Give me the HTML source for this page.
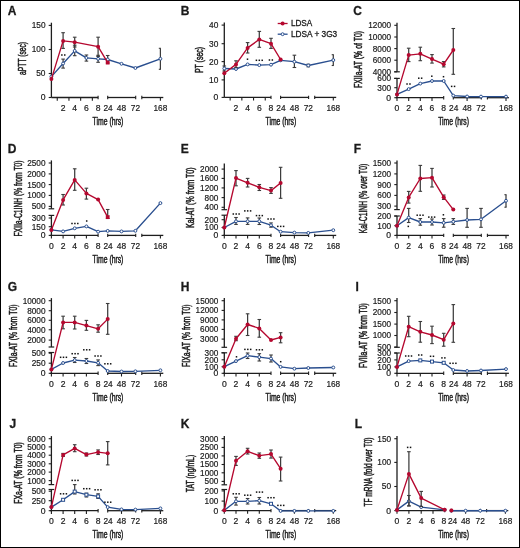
<!DOCTYPE html>
<html><head><meta charset="utf-8"><style>
html,body{margin:0;padding:0;background:#fff;}
body{width:520px;height:548px;overflow:hidden;}
svg{display:block;font-family:"Liberation Sans", sans-serif;will-change:transform;}
</style></head><body>
<svg width="520" height="548" viewBox="0 0 520 548" fill="#1a1a1a" stroke-width="0">
<rect x="0.5" y="0.5" width="519" height="547" fill="#fff" stroke="#000" stroke-width="1"/>
<text x="7.8" y="14.8" font-size="12" text-anchor="start" font-weight="bold" stroke="#1a1a1a" stroke-width="0.28">A</text>
<line x1="51.4" y1="22.7" x2="51.4" y2="97.5" stroke="#1e1e1e" stroke-width="1.3"/>
<line x1="48.7" y1="25.4" x2="51.4" y2="25.4" stroke="#1e1e1e" stroke-width="1.1"/>
<text x="45.5" y="28.3" font-size="8.2" text-anchor="end" font-weight="normal" stroke="#1a1a1a" stroke-width="0.18" textLength="13.8" lengthAdjust="spacingAndGlyphs">150</text>
<line x1="48.7" y1="49.5" x2="51.4" y2="49.5" stroke="#1e1e1e" stroke-width="1.1"/>
<text x="45.5" y="52.4" font-size="8.2" text-anchor="end" font-weight="normal" stroke="#1a1a1a" stroke-width="0.18" textLength="13.8" lengthAdjust="spacingAndGlyphs">100</text>
<line x1="48.7" y1="73.5" x2="51.4" y2="73.5" stroke="#1e1e1e" stroke-width="1.1"/>
<text x="45.5" y="76.4" font-size="8.2" text-anchor="end" font-weight="normal" stroke="#1a1a1a" stroke-width="0.18" textLength="9.3" lengthAdjust="spacingAndGlyphs">50</text>
<line x1="48.7" y1="97.5" x2="51.4" y2="97.5" stroke="#1e1e1e" stroke-width="1.1"/>
<text x="45.5" y="100.4" font-size="8.2" text-anchor="end" font-weight="normal" stroke="#1a1a1a" stroke-width="0.18" textLength="4.8" lengthAdjust="spacingAndGlyphs">0</text>
<line x1="51.4" y1="97.5" x2="98.1" y2="97.5" stroke="#1e1e1e" stroke-width="1.3"/>
<line x1="98.1" y1="95.8" x2="98.1" y2="99.2" stroke="#1e1e1e" stroke-width="1.1"/>
<line x1="57.25" y1="97.5" x2="57.25" y2="100.7" stroke="#1e1e1e" stroke-width="1.1"/>
<line x1="68.95" y1="97.5" x2="68.95" y2="100.7" stroke="#1e1e1e" stroke-width="1.1"/>
<line x1="80.65" y1="97.5" x2="80.65" y2="100.7" stroke="#1e1e1e" stroke-width="1.1"/>
<line x1="92.35" y1="97.5" x2="92.35" y2="100.7" stroke="#1e1e1e" stroke-width="1.1"/>
<line x1="107.7" y1="97.5" x2="135.7" y2="97.5" stroke="#1e1e1e" stroke-width="1.3"/>
<line x1="107.7" y1="95.8" x2="107.7" y2="99.2" stroke="#1e1e1e" stroke-width="1.1"/>
<line x1="135.7" y1="95.8" x2="135.7" y2="99.2" stroke="#1e1e1e" stroke-width="1.1"/>
<line x1="141.8" y1="97.5" x2="163.3" y2="97.5" stroke="#1e1e1e" stroke-width="1.3"/>
<line x1="141.8" y1="95.8" x2="141.8" y2="99.2" stroke="#1e1e1e" stroke-width="1.1"/>
<line x1="160.4" y1="97.5" x2="160.4" y2="100.7" stroke="#1e1e1e" stroke-width="1.1"/>
<text x="63.1" y="110.9" font-size="8.2" text-anchor="middle" font-weight="normal" stroke="#1a1a1a" stroke-width="0.18" textLength="4.8" lengthAdjust="spacingAndGlyphs">2</text>
<text x="74.7" y="110.9" font-size="8.2" text-anchor="middle" font-weight="normal" stroke="#1a1a1a" stroke-width="0.18" textLength="4.8" lengthAdjust="spacingAndGlyphs">4</text>
<text x="86.4" y="110.9" font-size="8.2" text-anchor="middle" font-weight="normal" stroke="#1a1a1a" stroke-width="0.18" textLength="4.8" lengthAdjust="spacingAndGlyphs">6</text>
<text x="98.1" y="110.9" font-size="8.2" text-anchor="middle" font-weight="normal" stroke="#1a1a1a" stroke-width="0.18" textLength="4.8" lengthAdjust="spacingAndGlyphs">8</text>
<text x="108.1" y="110.9" font-size="8.2" text-anchor="middle" font-weight="normal" stroke="#1a1a1a" stroke-width="0.18" textLength="9.3" lengthAdjust="spacingAndGlyphs">24</text>
<text x="121.5" y="110.9" font-size="8.2" text-anchor="middle" font-weight="normal" stroke="#1a1a1a" stroke-width="0.18" textLength="9.3" lengthAdjust="spacingAndGlyphs">48</text>
<text x="135.4" y="110.9" font-size="8.2" text-anchor="middle" font-weight="normal" stroke="#1a1a1a" stroke-width="0.18" textLength="9.3" lengthAdjust="spacingAndGlyphs">72</text>
<text x="160.4" y="110.9" font-size="8.2" text-anchor="middle" font-weight="normal" stroke="#1a1a1a" stroke-width="0.18" textLength="13.8" lengthAdjust="spacingAndGlyphs">168</text>
<text x="108" y="124.9" font-size="10" text-anchor="middle" font-weight="normal" stroke="#1a1a1a" stroke-width="0.45" textLength="30.8" lengthAdjust="spacingAndGlyphs">Time (hrs)</text>
<text transform="translate(25.6,58.4) rotate(-90)" x="0" y="0" stroke="#1a1a1a" stroke-width="0.5" font-size="10" text-anchor="middle" textLength="33" lengthAdjust="spacingAndGlyphs">aPTT (sec)</text>
<line x1="63.1" y1="59.1" x2="63.1" y2="68.1" stroke="#3c3c3c" stroke-width="1.25"/>
<line x1="61.3" y1="59.1" x2="64.9" y2="59.1" stroke="#3c3c3c" stroke-width="1.1"/>
<line x1="61.3" y1="68.1" x2="64.9" y2="68.1" stroke="#3c3c3c" stroke-width="1.1"/>
<line x1="74.7" y1="45.2" x2="74.7" y2="55.7" stroke="#3c3c3c" stroke-width="1.25"/>
<line x1="72.9" y1="45.2" x2="76.5" y2="45.2" stroke="#3c3c3c" stroke-width="1.1"/>
<line x1="72.9" y1="55.7" x2="76.5" y2="55.7" stroke="#3c3c3c" stroke-width="1.1"/>
<line x1="86.4" y1="55" x2="86.4" y2="61.1" stroke="#3c3c3c" stroke-width="1.25"/>
<line x1="84.6" y1="55" x2="88.2" y2="55" stroke="#3c3c3c" stroke-width="1.1"/>
<line x1="84.6" y1="61.1" x2="88.2" y2="61.1" stroke="#3c3c3c" stroke-width="1.1"/>
<line x1="98.1" y1="55.3" x2="98.1" y2="62.3" stroke="#3c3c3c" stroke-width="1.25"/>
<line x1="96.3" y1="55.3" x2="99.9" y2="55.3" stroke="#3c3c3c" stroke-width="1.1"/>
<line x1="96.3" y1="62.3" x2="99.9" y2="62.3" stroke="#3c3c3c" stroke-width="1.1"/>
<line x1="107.7" y1="55.5" x2="107.7" y2="63" stroke="#3c3c3c" stroke-width="1.25"/>
<line x1="105.9" y1="55.5" x2="109.5" y2="55.5" stroke="#3c3c3c" stroke-width="1.1"/>
<line x1="105.9" y1="63" x2="109.5" y2="63" stroke="#3c3c3c" stroke-width="1.1"/>
<line x1="160.4" y1="48.3" x2="160.4" y2="69.3" stroke="#3c3c3c" stroke-width="1.25"/>
<line x1="158.8" y1="48.3" x2="160.9" y2="48.3" stroke="#3c3c3c" stroke-width="1.1"/>
<line x1="158.8" y1="69.3" x2="160.9" y2="69.3" stroke="#3c3c3c" stroke-width="1.1"/>
<polyline points="51.4,76.6 63.1,63.5 74.7,50.9 86.4,57.9 98.1,58.8 107.7,59.5 121.5,63.8 135.4,68 160.4,58.8" fill="none" stroke="#2a4f8f" stroke-width="1.35" stroke-linejoin="round"/>
<circle cx="51.4" cy="76.6" r="1.45" fill="#fff" stroke="#2a4f8f" stroke-width="1"/>
<circle cx="63.1" cy="63.5" r="1.45" fill="#fff" stroke="#2a4f8f" stroke-width="1"/>
<circle cx="74.7" cy="50.9" r="1.45" fill="#fff" stroke="#2a4f8f" stroke-width="1"/>
<circle cx="86.4" cy="57.9" r="1.45" fill="#fff" stroke="#2a4f8f" stroke-width="1"/>
<circle cx="98.1" cy="58.8" r="1.45" fill="#fff" stroke="#2a4f8f" stroke-width="1"/>
<circle cx="107.7" cy="59.5" r="1.45" fill="#fff" stroke="#2a4f8f" stroke-width="1"/>
<circle cx="121.5" cy="63.8" r="1.45" fill="#fff" stroke="#2a4f8f" stroke-width="1"/>
<circle cx="135.4" cy="68" r="1.45" fill="#fff" stroke="#2a4f8f" stroke-width="1"/>
<circle cx="160.4" cy="58.8" r="1.45" fill="#fff" stroke="#2a4f8f" stroke-width="1"/>
<line x1="63.1" y1="32.7" x2="63.1" y2="48.4" stroke="#3c3c3c" stroke-width="1.25"/>
<line x1="61.3" y1="32.7" x2="64.9" y2="32.7" stroke="#3c3c3c" stroke-width="1.1"/>
<line x1="61.3" y1="48.4" x2="64.9" y2="48.4" stroke="#3c3c3c" stroke-width="1.1"/>
<line x1="74.7" y1="37.2" x2="74.7" y2="47" stroke="#3c3c3c" stroke-width="1.25"/>
<line x1="72.9" y1="37.2" x2="76.5" y2="37.2" stroke="#3c3c3c" stroke-width="1.1"/>
<line x1="72.9" y1="47" x2="76.5" y2="47" stroke="#3c3c3c" stroke-width="1.1"/>
<line x1="98.1" y1="37.2" x2="98.1" y2="56.5" stroke="#3c3c3c" stroke-width="1.25"/>
<line x1="96.3" y1="37.2" x2="99.9" y2="37.2" stroke="#3c3c3c" stroke-width="1.1"/>
<line x1="96.3" y1="56.5" x2="99.9" y2="56.5" stroke="#3c3c3c" stroke-width="1.1"/>
<polyline points="51.4,79.1 63.1,40.9 74.7,42.2 98.1,46.7 107.7,62.6" fill="none" stroke="#b5082f" stroke-width="1.35" stroke-linejoin="round"/>
<circle cx="51.4" cy="79.1" r="2.0" fill="#b5082f"/>
<circle cx="63.1" cy="40.9" r="2.0" fill="#b5082f"/>
<circle cx="74.7" cy="42.2" r="2.0" fill="#b5082f"/>
<circle cx="98.1" cy="46.7" r="2.0" fill="#b5082f"/>
<rect x="105.8" y="60.7" width="3.8" height="3.8" fill="#b5082f"/>
<rect x="61.1" y="54.25" width="1.5" height="1.5" fill="#111"/>
<rect x="64" y="54.25" width="1.5" height="1.5" fill="#111"/>
<text x="180.8" y="15" font-size="12" text-anchor="start" font-weight="bold" stroke="#1a1a1a" stroke-width="0.28">B</text>
<line x1="224.3" y1="22.5" x2="224.3" y2="97.4" stroke="#1e1e1e" stroke-width="1.3"/>
<line x1="221.6" y1="25.1" x2="224.3" y2="25.1" stroke="#1e1e1e" stroke-width="1.1"/>
<text x="218.4" y="28" font-size="8.2" text-anchor="end" font-weight="normal" stroke="#1a1a1a" stroke-width="0.18" textLength="9.3" lengthAdjust="spacingAndGlyphs">40</text>
<line x1="221.6" y1="43.7" x2="224.3" y2="43.7" stroke="#1e1e1e" stroke-width="1.1"/>
<text x="218.4" y="46.6" font-size="8.2" text-anchor="end" font-weight="normal" stroke="#1a1a1a" stroke-width="0.18" textLength="9.3" lengthAdjust="spacingAndGlyphs">30</text>
<line x1="221.6" y1="61.6" x2="224.3" y2="61.6" stroke="#1e1e1e" stroke-width="1.1"/>
<text x="218.4" y="64.5" font-size="8.2" text-anchor="end" font-weight="normal" stroke="#1a1a1a" stroke-width="0.18" textLength="9.3" lengthAdjust="spacingAndGlyphs">20</text>
<line x1="221.6" y1="79.9" x2="224.3" y2="79.9" stroke="#1e1e1e" stroke-width="1.1"/>
<text x="218.4" y="82.8" font-size="8.2" text-anchor="end" font-weight="normal" stroke="#1a1a1a" stroke-width="0.18" textLength="9.3" lengthAdjust="spacingAndGlyphs">10</text>
<line x1="221.6" y1="97.4" x2="224.3" y2="97.4" stroke="#1e1e1e" stroke-width="1.1"/>
<text x="218.4" y="100.3" font-size="8.2" text-anchor="end" font-weight="normal" stroke="#1a1a1a" stroke-width="0.18" textLength="4.8" lengthAdjust="spacingAndGlyphs">0</text>
<line x1="224.3" y1="97.4" x2="271" y2="97.4" stroke="#1e1e1e" stroke-width="1.3"/>
<line x1="271" y1="95.7" x2="271" y2="99.1" stroke="#1e1e1e" stroke-width="1.1"/>
<line x1="230.15" y1="97.4" x2="230.15" y2="100.6" stroke="#1e1e1e" stroke-width="1.1"/>
<line x1="241.85" y1="97.4" x2="241.85" y2="100.6" stroke="#1e1e1e" stroke-width="1.1"/>
<line x1="253.55" y1="97.4" x2="253.55" y2="100.6" stroke="#1e1e1e" stroke-width="1.1"/>
<line x1="265.25" y1="97.4" x2="265.25" y2="100.6" stroke="#1e1e1e" stroke-width="1.1"/>
<line x1="280.6" y1="97.4" x2="308.6" y2="97.4" stroke="#1e1e1e" stroke-width="1.3"/>
<line x1="280.6" y1="95.7" x2="280.6" y2="99.1" stroke="#1e1e1e" stroke-width="1.1"/>
<line x1="308.6" y1="95.7" x2="308.6" y2="99.1" stroke="#1e1e1e" stroke-width="1.1"/>
<line x1="314.7" y1="97.4" x2="336.2" y2="97.4" stroke="#1e1e1e" stroke-width="1.3"/>
<line x1="314.7" y1="95.7" x2="314.7" y2="99.1" stroke="#1e1e1e" stroke-width="1.1"/>
<line x1="333.3" y1="97.4" x2="333.3" y2="100.6" stroke="#1e1e1e" stroke-width="1.1"/>
<text x="236" y="110.8" font-size="8.2" text-anchor="middle" font-weight="normal" stroke="#1a1a1a" stroke-width="0.18" textLength="4.8" lengthAdjust="spacingAndGlyphs">2</text>
<text x="247.6" y="110.8" font-size="8.2" text-anchor="middle" font-weight="normal" stroke="#1a1a1a" stroke-width="0.18" textLength="4.8" lengthAdjust="spacingAndGlyphs">4</text>
<text x="259.3" y="110.8" font-size="8.2" text-anchor="middle" font-weight="normal" stroke="#1a1a1a" stroke-width="0.18" textLength="4.8" lengthAdjust="spacingAndGlyphs">6</text>
<text x="271" y="110.8" font-size="8.2" text-anchor="middle" font-weight="normal" stroke="#1a1a1a" stroke-width="0.18" textLength="4.8" lengthAdjust="spacingAndGlyphs">8</text>
<text x="281" y="110.8" font-size="8.2" text-anchor="middle" font-weight="normal" stroke="#1a1a1a" stroke-width="0.18" textLength="9.3" lengthAdjust="spacingAndGlyphs">24</text>
<text x="294.4" y="110.8" font-size="8.2" text-anchor="middle" font-weight="normal" stroke="#1a1a1a" stroke-width="0.18" textLength="9.3" lengthAdjust="spacingAndGlyphs">48</text>
<text x="308.3" y="110.8" font-size="8.2" text-anchor="middle" font-weight="normal" stroke="#1a1a1a" stroke-width="0.18" textLength="9.3" lengthAdjust="spacingAndGlyphs">72</text>
<text x="333.3" y="110.8" font-size="8.2" text-anchor="middle" font-weight="normal" stroke="#1a1a1a" stroke-width="0.18" textLength="13.8" lengthAdjust="spacingAndGlyphs">168</text>
<text x="280.9" y="124.8" font-size="10" text-anchor="middle" font-weight="normal" stroke="#1a1a1a" stroke-width="0.45" textLength="30.8" lengthAdjust="spacingAndGlyphs">Time (hrs)</text>
<text transform="translate(203.3,60) rotate(-90)" x="0" y="0" stroke="#1a1a1a" stroke-width="0.5" font-size="10" text-anchor="middle" textLength="26.2" lengthAdjust="spacingAndGlyphs">PT (sec)</text>
<line x1="224.3" y1="66" x2="224.3" y2="71" stroke="#3c3c3c" stroke-width="1.25"/>
<line x1="222.5" y1="66" x2="226.1" y2="66" stroke="#3c3c3c" stroke-width="1.1"/>
<line x1="222.5" y1="71" x2="226.1" y2="71" stroke="#3c3c3c" stroke-width="1.1"/>
<line x1="294.4" y1="55.2" x2="294.4" y2="67.5" stroke="#3c3c3c" stroke-width="1.25"/>
<line x1="292.6" y1="55.2" x2="296.2" y2="55.2" stroke="#3c3c3c" stroke-width="1.1"/>
<line x1="292.6" y1="67.5" x2="296.2" y2="67.5" stroke="#3c3c3c" stroke-width="1.1"/>
<line x1="308.3" y1="64.2" x2="308.3" y2="66.8" stroke="#3c3c3c" stroke-width="1.25"/>
<line x1="306.5" y1="64.2" x2="310.1" y2="64.2" stroke="#3c3c3c" stroke-width="1.1"/>
<line x1="306.5" y1="66.8" x2="310.1" y2="66.8" stroke="#3c3c3c" stroke-width="1.1"/>
<line x1="333.3" y1="54.7" x2="333.3" y2="65.5" stroke="#3c3c3c" stroke-width="1.25"/>
<line x1="331.7" y1="54.7" x2="333.8" y2="54.7" stroke="#3c3c3c" stroke-width="1.1"/>
<line x1="331.7" y1="65.5" x2="333.8" y2="65.5" stroke="#3c3c3c" stroke-width="1.1"/>
<polyline points="224.3,68.5 236,69 247.6,64.4 259.3,65.1 271,64.7 280.6,60.3 294.4,61.7 308.3,65.5 333.3,60.1" fill="none" stroke="#2a4f8f" stroke-width="1.35" stroke-linejoin="round"/>
<circle cx="224.3" cy="68.5" r="1.45" fill="#fff" stroke="#2a4f8f" stroke-width="1"/>
<circle cx="236" cy="69" r="1.45" fill="#fff" stroke="#2a4f8f" stroke-width="1"/>
<circle cx="247.6" cy="64.4" r="1.45" fill="#fff" stroke="#2a4f8f" stroke-width="1"/>
<circle cx="259.3" cy="65.1" r="1.45" fill="#fff" stroke="#2a4f8f" stroke-width="1"/>
<circle cx="271" cy="64.7" r="1.45" fill="#fff" stroke="#2a4f8f" stroke-width="1"/>
<circle cx="280.6" cy="60.3" r="1.45" fill="#fff" stroke="#2a4f8f" stroke-width="1"/>
<circle cx="294.4" cy="61.7" r="1.45" fill="#fff" stroke="#2a4f8f" stroke-width="1"/>
<circle cx="308.3" cy="65.5" r="1.45" fill="#fff" stroke="#2a4f8f" stroke-width="1"/>
<circle cx="333.3" cy="60.1" r="1.45" fill="#fff" stroke="#2a4f8f" stroke-width="1"/>
<line x1="236" y1="60.8" x2="236" y2="67.5" stroke="#3c3c3c" stroke-width="1.25"/>
<line x1="234.2" y1="60.8" x2="237.8" y2="60.8" stroke="#3c3c3c" stroke-width="1.1"/>
<line x1="234.2" y1="67.5" x2="237.8" y2="67.5" stroke="#3c3c3c" stroke-width="1.1"/>
<line x1="247.6" y1="42.6" x2="247.6" y2="53" stroke="#3c3c3c" stroke-width="1.25"/>
<line x1="245.8" y1="42.6" x2="249.4" y2="42.6" stroke="#3c3c3c" stroke-width="1.1"/>
<line x1="245.8" y1="53" x2="249.4" y2="53" stroke="#3c3c3c" stroke-width="1.1"/>
<line x1="259.3" y1="31.4" x2="259.3" y2="47.3" stroke="#3c3c3c" stroke-width="1.25"/>
<line x1="257.5" y1="31.4" x2="261.1" y2="31.4" stroke="#3c3c3c" stroke-width="1.1"/>
<line x1="257.5" y1="47.3" x2="261.1" y2="47.3" stroke="#3c3c3c" stroke-width="1.1"/>
<line x1="271" y1="38.3" x2="271" y2="48.4" stroke="#3c3c3c" stroke-width="1.25"/>
<line x1="269.2" y1="38.3" x2="272.8" y2="38.3" stroke="#3c3c3c" stroke-width="1.1"/>
<line x1="269.2" y1="48.4" x2="272.8" y2="48.4" stroke="#3c3c3c" stroke-width="1.1"/>
<polyline points="224.3,73.2 236,64.4 247.6,47.9 259.3,39.4 271,43.7 280.6,59.5" fill="none" stroke="#b5082f" stroke-width="1.35" stroke-linejoin="round"/>
<circle cx="224.3" cy="73.2" r="2.0" fill="#b5082f"/>
<circle cx="236" cy="64.4" r="2.0" fill="#b5082f"/>
<circle cx="247.6" cy="47.9" r="2.0" fill="#b5082f"/>
<circle cx="259.3" cy="39.4" r="2.0" fill="#b5082f"/>
<circle cx="271" cy="43.7" r="2.0" fill="#b5082f"/>
<circle cx="280.6" cy="59.5" r="2.0" fill="#b5082f"/>
<rect x="246.75" y="58.45" width="1.5" height="1.5" fill="#111"/>
<rect x="255.65" y="59.55" width="1.5" height="1.5" fill="#111"/>
<rect x="258.55" y="59.55" width="1.5" height="1.5" fill="#111"/>
<rect x="261.45" y="59.55" width="1.5" height="1.5" fill="#111"/>
<rect x="268.7" y="59.25" width="1.5" height="1.5" fill="#111"/>
<rect x="271.6" y="59.25" width="1.5" height="1.5" fill="#111"/>
<text x="353.3" y="14.9" font-size="12" text-anchor="start" font-weight="bold" stroke="#1a1a1a" stroke-width="0.28">C</text>
<line x1="397" y1="22.7" x2="397" y2="71.8" stroke="#1e1e1e" stroke-width="1.3"/>
<line x1="394.2" y1="71.8" x2="399.8" y2="71.8" stroke="#1e1e1e" stroke-width="1.2"/>
<line x1="397" y1="78.4" x2="397" y2="97.7" stroke="#1e1e1e" stroke-width="1.3"/>
<line x1="394.2" y1="78.4" x2="399.8" y2="78.4" stroke="#1e1e1e" stroke-width="1.2"/>
<line x1="394.3" y1="25.3" x2="397" y2="25.3" stroke="#1e1e1e" stroke-width="1.1"/>
<text x="391.1" y="28.2" font-size="8.2" text-anchor="end" font-weight="normal" stroke="#1a1a1a" stroke-width="0.18" textLength="22.8" lengthAdjust="spacingAndGlyphs">12000</text>
<line x1="394.3" y1="37" x2="397" y2="37" stroke="#1e1e1e" stroke-width="1.1"/>
<text x="391.1" y="39.9" font-size="8.2" text-anchor="end" font-weight="normal" stroke="#1a1a1a" stroke-width="0.18" textLength="22.8" lengthAdjust="spacingAndGlyphs">10000</text>
<line x1="394.3" y1="48.6" x2="397" y2="48.6" stroke="#1e1e1e" stroke-width="1.1"/>
<text x="391.1" y="51.5" font-size="8.2" text-anchor="end" font-weight="normal" stroke="#1a1a1a" stroke-width="0.18" textLength="18.3" lengthAdjust="spacingAndGlyphs">8000</text>
<line x1="394.3" y1="60.2" x2="397" y2="60.2" stroke="#1e1e1e" stroke-width="1.1"/>
<text x="391.1" y="63.1" font-size="8.2" text-anchor="end" font-weight="normal" stroke="#1a1a1a" stroke-width="0.18" textLength="18.3" lengthAdjust="spacingAndGlyphs">6000</text>
<line x1="394.3" y1="71.8" x2="397" y2="71.8" stroke="#1e1e1e" stroke-width="1.1"/>
<text x="391.1" y="74.7" font-size="8.2" text-anchor="end" font-weight="normal" stroke="#1a1a1a" stroke-width="0.18" textLength="18.3" lengthAdjust="spacingAndGlyphs">4000</text>
<line x1="394.3" y1="78.4" x2="397" y2="78.4" stroke="#1e1e1e" stroke-width="1.1"/>
<text x="391.1" y="81.3" font-size="8.2" text-anchor="end" font-weight="normal" stroke="#1a1a1a" stroke-width="0.18" textLength="13.8" lengthAdjust="spacingAndGlyphs">600</text>
<line x1="394.3" y1="87.7" x2="397" y2="87.7" stroke="#1e1e1e" stroke-width="1.1"/>
<text x="391.1" y="90.6" font-size="8.2" text-anchor="end" font-weight="normal" stroke="#1a1a1a" stroke-width="0.18" textLength="13.8" lengthAdjust="spacingAndGlyphs">300</text>
<line x1="394.3" y1="97.7" x2="397" y2="97.7" stroke="#1e1e1e" stroke-width="1.1"/>
<text x="391.1" y="100.6" font-size="8.2" text-anchor="end" font-weight="normal" stroke="#1a1a1a" stroke-width="0.18" textLength="4.8" lengthAdjust="spacingAndGlyphs">0</text>
<line x1="395.8" y1="97.7" x2="443.7" y2="97.7" stroke="#1e1e1e" stroke-width="1.3"/>
<line x1="443.7" y1="96" x2="443.7" y2="99.4" stroke="#1e1e1e" stroke-width="1.1"/>
<line x1="397" y1="97.7" x2="397" y2="100.9" stroke="#1e1e1e" stroke-width="1.1"/>
<line x1="408.7" y1="97.7" x2="408.7" y2="100.9" stroke="#1e1e1e" stroke-width="1.1"/>
<line x1="420.3" y1="97.7" x2="420.3" y2="100.9" stroke="#1e1e1e" stroke-width="1.1"/>
<line x1="432" y1="97.7" x2="432" y2="100.9" stroke="#1e1e1e" stroke-width="1.1"/>
<line x1="453.3" y1="97.7" x2="481.3" y2="97.7" stroke="#1e1e1e" stroke-width="1.3"/>
<line x1="453.3" y1="96" x2="453.3" y2="99.4" stroke="#1e1e1e" stroke-width="1.1"/>
<line x1="481.3" y1="96" x2="481.3" y2="99.4" stroke="#1e1e1e" stroke-width="1.1"/>
<line x1="467.1" y1="97.7" x2="467.1" y2="100.9" stroke="#1e1e1e" stroke-width="1.1"/>
<line x1="487.4" y1="97.7" x2="508.9" y2="97.7" stroke="#1e1e1e" stroke-width="1.3"/>
<line x1="487.4" y1="96" x2="487.4" y2="99.4" stroke="#1e1e1e" stroke-width="1.1"/>
<line x1="506" y1="97.7" x2="506" y2="100.9" stroke="#1e1e1e" stroke-width="1.1"/>
<text x="397" y="111.1" font-size="8.2" text-anchor="middle" font-weight="normal" stroke="#1a1a1a" stroke-width="0.18" textLength="4.8" lengthAdjust="spacingAndGlyphs">0</text>
<text x="408.7" y="111.1" font-size="8.2" text-anchor="middle" font-weight="normal" stroke="#1a1a1a" stroke-width="0.18" textLength="4.8" lengthAdjust="spacingAndGlyphs">2</text>
<text x="420.3" y="111.1" font-size="8.2" text-anchor="middle" font-weight="normal" stroke="#1a1a1a" stroke-width="0.18" textLength="4.8" lengthAdjust="spacingAndGlyphs">4</text>
<text x="432" y="111.1" font-size="8.2" text-anchor="middle" font-weight="normal" stroke="#1a1a1a" stroke-width="0.18" textLength="4.8" lengthAdjust="spacingAndGlyphs">6</text>
<text x="443.7" y="111.1" font-size="8.2" text-anchor="middle" font-weight="normal" stroke="#1a1a1a" stroke-width="0.18" textLength="4.8" lengthAdjust="spacingAndGlyphs">8</text>
<text x="453.7" y="111.1" font-size="8.2" text-anchor="middle" font-weight="normal" stroke="#1a1a1a" stroke-width="0.18" textLength="9.3" lengthAdjust="spacingAndGlyphs">24</text>
<text x="467.1" y="111.1" font-size="8.2" text-anchor="middle" font-weight="normal" stroke="#1a1a1a" stroke-width="0.18" textLength="9.3" lengthAdjust="spacingAndGlyphs">48</text>
<text x="481" y="111.1" font-size="8.2" text-anchor="middle" font-weight="normal" stroke="#1a1a1a" stroke-width="0.18" textLength="9.3" lengthAdjust="spacingAndGlyphs">72</text>
<text x="506" y="111.1" font-size="8.2" text-anchor="middle" font-weight="normal" stroke="#1a1a1a" stroke-width="0.18" textLength="13.8" lengthAdjust="spacingAndGlyphs">168</text>
<text x="453.6" y="125.1" font-size="10" text-anchor="middle" font-weight="normal" stroke="#1a1a1a" stroke-width="0.45" textLength="30.8" lengthAdjust="spacingAndGlyphs">Time (hrs)</text>
<text transform="translate(361.6,59.5) rotate(-90)" x="0" y="0" stroke="#1a1a1a" stroke-width="0.5" font-size="10" text-anchor="middle" textLength="57" lengthAdjust="spacingAndGlyphs">FXIIa-AT (% of T0)</text>
<polyline points="397,94.4 408.7,89.1 420.3,83.6 432,81 443.7,81 453.3,95.6 467.1,96.5 481,96.6 506,96.6" fill="none" stroke="#2a4f8f" stroke-width="1.35" stroke-linejoin="round"/>
<circle cx="397" cy="94.4" r="1.45" fill="#fff" stroke="#2a4f8f" stroke-width="1"/>
<circle cx="408.7" cy="89.1" r="1.45" fill="#fff" stroke="#2a4f8f" stroke-width="1"/>
<circle cx="420.3" cy="83.6" r="1.45" fill="#fff" stroke="#2a4f8f" stroke-width="1"/>
<circle cx="432" cy="81" r="1.45" fill="#fff" stroke="#2a4f8f" stroke-width="1"/>
<circle cx="443.7" cy="81" r="1.45" fill="#fff" stroke="#2a4f8f" stroke-width="1"/>
<circle cx="453.3" cy="95.6" r="1.45" fill="#fff" stroke="#2a4f8f" stroke-width="1"/>
<circle cx="467.1" cy="96.5" r="1.45" fill="#fff" stroke="#2a4f8f" stroke-width="1"/>
<circle cx="481" cy="96.6" r="1.45" fill="#fff" stroke="#2a4f8f" stroke-width="1"/>
<circle cx="506" cy="96.6" r="1.45" fill="#fff" stroke="#2a4f8f" stroke-width="1"/>
<line x1="408.7" y1="48.2" x2="408.7" y2="61.6" stroke="#3c3c3c" stroke-width="1.25"/>
<line x1="406.9" y1="48.2" x2="410.5" y2="48.2" stroke="#3c3c3c" stroke-width="1.1"/>
<line x1="406.9" y1="61.6" x2="410.5" y2="61.6" stroke="#3c3c3c" stroke-width="1.1"/>
<line x1="420.3" y1="47.2" x2="420.3" y2="60.7" stroke="#3c3c3c" stroke-width="1.25"/>
<line x1="418.5" y1="47.2" x2="422.1" y2="47.2" stroke="#3c3c3c" stroke-width="1.1"/>
<line x1="418.5" y1="60.7" x2="422.1" y2="60.7" stroke="#3c3c3c" stroke-width="1.1"/>
<line x1="432" y1="54.6" x2="432" y2="63.1" stroke="#3c3c3c" stroke-width="1.25"/>
<line x1="430.2" y1="54.6" x2="433.8" y2="54.6" stroke="#3c3c3c" stroke-width="1.1"/>
<line x1="430.2" y1="63.1" x2="433.8" y2="63.1" stroke="#3c3c3c" stroke-width="1.1"/>
<line x1="443.7" y1="61.6" x2="443.7" y2="66.9" stroke="#3c3c3c" stroke-width="1.25"/>
<line x1="441.9" y1="61.6" x2="445.5" y2="61.6" stroke="#3c3c3c" stroke-width="1.1"/>
<line x1="441.9" y1="66.9" x2="445.5" y2="66.9" stroke="#3c3c3c" stroke-width="1.1"/>
<line x1="453.3" y1="28.5" x2="453.3" y2="74.3" stroke="#3c3c3c" stroke-width="1.25"/>
<line x1="451.5" y1="28.5" x2="455.1" y2="28.5" stroke="#3c3c3c" stroke-width="1.1"/>
<line x1="451.5" y1="74.3" x2="455.1" y2="74.3" stroke="#3c3c3c" stroke-width="1.1"/>
<polyline points="397,94.4 408.7,55.1 420.3,53.8 432,59.1 443.7,64.2 453.3,50" fill="none" stroke="#b5082f" stroke-width="1.35" stroke-linejoin="round"/>
<circle cx="397" cy="94.4" r="2.0" fill="#b5082f"/>
<circle cx="408.7" cy="55.1" r="2.0" fill="#b5082f"/>
<circle cx="420.3" cy="53.8" r="2.0" fill="#b5082f"/>
<circle cx="432" cy="59.1" r="2.0" fill="#b5082f"/>
<circle cx="443.7" cy="64.2" r="2.0" fill="#b5082f"/>
<circle cx="453.3" cy="50" r="2.0" fill="#b5082f"/>
<rect x="406.3" y="83.25" width="1.5" height="1.5" fill="#111"/>
<rect x="409.2" y="83.25" width="1.5" height="1.5" fill="#111"/>
<rect x="418" y="77.45" width="1.5" height="1.5" fill="#111"/>
<rect x="420.9" y="77.45" width="1.5" height="1.5" fill="#111"/>
<rect x="431.05" y="75.45" width="1.5" height="1.5" fill="#111"/>
<rect x="442.75" y="75.95" width="1.5" height="1.5" fill="#111"/>
<rect x="450.9" y="85.65" width="1.5" height="1.5" fill="#111"/>
<rect x="453.8" y="85.65" width="1.5" height="1.5" fill="#111"/>
<text x="7.8" y="153" font-size="12" text-anchor="start" font-weight="bold" stroke="#1a1a1a" stroke-width="0.28">D</text>
<line x1="51.4" y1="160.4" x2="51.4" y2="208.8" stroke="#1e1e1e" stroke-width="1.3"/>
<line x1="48.6" y1="208.8" x2="54.2" y2="208.8" stroke="#1e1e1e" stroke-width="1.2"/>
<line x1="51.4" y1="215.4" x2="51.4" y2="235.4" stroke="#1e1e1e" stroke-width="1.3"/>
<line x1="48.6" y1="215.4" x2="54.2" y2="215.4" stroke="#1e1e1e" stroke-width="1.2"/>
<line x1="48.7" y1="163" x2="51.4" y2="163" stroke="#1e1e1e" stroke-width="1.1"/>
<text x="45.5" y="165.9" font-size="8.2" text-anchor="end" font-weight="normal" stroke="#1a1a1a" stroke-width="0.18" textLength="18.3" lengthAdjust="spacingAndGlyphs">2500</text>
<line x1="48.7" y1="173.9" x2="51.4" y2="173.9" stroke="#1e1e1e" stroke-width="1.1"/>
<text x="45.5" y="176.8" font-size="8.2" text-anchor="end" font-weight="normal" stroke="#1a1a1a" stroke-width="0.18" textLength="18.3" lengthAdjust="spacingAndGlyphs">2000</text>
<line x1="48.7" y1="184.6" x2="51.4" y2="184.6" stroke="#1e1e1e" stroke-width="1.1"/>
<text x="45.5" y="187.5" font-size="8.2" text-anchor="end" font-weight="normal" stroke="#1a1a1a" stroke-width="0.18" textLength="18.3" lengthAdjust="spacingAndGlyphs">1500</text>
<line x1="48.7" y1="195.4" x2="51.4" y2="195.4" stroke="#1e1e1e" stroke-width="1.1"/>
<text x="45.5" y="198.3" font-size="8.2" text-anchor="end" font-weight="normal" stroke="#1a1a1a" stroke-width="0.18" textLength="18.3" lengthAdjust="spacingAndGlyphs">1000</text>
<line x1="48.7" y1="206.4" x2="51.4" y2="206.4" stroke="#1e1e1e" stroke-width="1.1"/>
<text x="45.5" y="209.3" font-size="8.2" text-anchor="end" font-weight="normal" stroke="#1a1a1a" stroke-width="0.18" textLength="13.8" lengthAdjust="spacingAndGlyphs">500</text>
<line x1="48.7" y1="218" x2="51.4" y2="218" stroke="#1e1e1e" stroke-width="1.1"/>
<text x="45.5" y="220.9" font-size="8.2" text-anchor="end" font-weight="normal" stroke="#1a1a1a" stroke-width="0.18" textLength="13.8" lengthAdjust="spacingAndGlyphs">300</text>
<line x1="48.7" y1="226.7" x2="51.4" y2="226.7" stroke="#1e1e1e" stroke-width="1.1"/>
<text x="45.5" y="229.6" font-size="8.2" text-anchor="end" font-weight="normal" stroke="#1a1a1a" stroke-width="0.18" textLength="13.8" lengthAdjust="spacingAndGlyphs">150</text>
<line x1="48.7" y1="235.4" x2="51.4" y2="235.4" stroke="#1e1e1e" stroke-width="1.1"/>
<text x="45.5" y="238.3" font-size="8.2" text-anchor="end" font-weight="normal" stroke="#1a1a1a" stroke-width="0.18" textLength="4.8" lengthAdjust="spacingAndGlyphs">0</text>
<line x1="50.2" y1="235.4" x2="98.1" y2="235.4" stroke="#1e1e1e" stroke-width="1.3"/>
<line x1="98.1" y1="233.7" x2="98.1" y2="237.1" stroke="#1e1e1e" stroke-width="1.1"/>
<line x1="51.4" y1="235.4" x2="51.4" y2="238.6" stroke="#1e1e1e" stroke-width="1.1"/>
<line x1="63.1" y1="235.4" x2="63.1" y2="238.6" stroke="#1e1e1e" stroke-width="1.1"/>
<line x1="74.7" y1="235.4" x2="74.7" y2="238.6" stroke="#1e1e1e" stroke-width="1.1"/>
<line x1="86.4" y1="235.4" x2="86.4" y2="238.6" stroke="#1e1e1e" stroke-width="1.1"/>
<line x1="107.7" y1="235.4" x2="135.7" y2="235.4" stroke="#1e1e1e" stroke-width="1.3"/>
<line x1="107.7" y1="233.7" x2="107.7" y2="237.1" stroke="#1e1e1e" stroke-width="1.1"/>
<line x1="135.7" y1="233.7" x2="135.7" y2="237.1" stroke="#1e1e1e" stroke-width="1.1"/>
<line x1="141.8" y1="235.4" x2="163.3" y2="235.4" stroke="#1e1e1e" stroke-width="1.3"/>
<line x1="141.8" y1="233.7" x2="141.8" y2="237.1" stroke="#1e1e1e" stroke-width="1.1"/>
<line x1="160.4" y1="235.4" x2="160.4" y2="238.6" stroke="#1e1e1e" stroke-width="1.1"/>
<text x="51.4" y="248.8" font-size="8.2" text-anchor="middle" font-weight="normal" stroke="#1a1a1a" stroke-width="0.18" textLength="4.8" lengthAdjust="spacingAndGlyphs">0</text>
<text x="63.1" y="248.8" font-size="8.2" text-anchor="middle" font-weight="normal" stroke="#1a1a1a" stroke-width="0.18" textLength="4.8" lengthAdjust="spacingAndGlyphs">2</text>
<text x="74.7" y="248.8" font-size="8.2" text-anchor="middle" font-weight="normal" stroke="#1a1a1a" stroke-width="0.18" textLength="4.8" lengthAdjust="spacingAndGlyphs">4</text>
<text x="86.4" y="248.8" font-size="8.2" text-anchor="middle" font-weight="normal" stroke="#1a1a1a" stroke-width="0.18" textLength="4.8" lengthAdjust="spacingAndGlyphs">6</text>
<text x="98.1" y="248.8" font-size="8.2" text-anchor="middle" font-weight="normal" stroke="#1a1a1a" stroke-width="0.18" textLength="4.8" lengthAdjust="spacingAndGlyphs">8</text>
<text x="108.1" y="248.8" font-size="8.2" text-anchor="middle" font-weight="normal" stroke="#1a1a1a" stroke-width="0.18" textLength="9.3" lengthAdjust="spacingAndGlyphs">24</text>
<text x="121.5" y="248.8" font-size="8.2" text-anchor="middle" font-weight="normal" stroke="#1a1a1a" stroke-width="0.18" textLength="9.3" lengthAdjust="spacingAndGlyphs">48</text>
<text x="135.4" y="248.8" font-size="8.2" text-anchor="middle" font-weight="normal" stroke="#1a1a1a" stroke-width="0.18" textLength="9.3" lengthAdjust="spacingAndGlyphs">72</text>
<text x="160.4" y="248.8" font-size="8.2" text-anchor="middle" font-weight="normal" stroke="#1a1a1a" stroke-width="0.18" textLength="13.8" lengthAdjust="spacingAndGlyphs">168</text>
<text x="108" y="262.8" font-size="10" text-anchor="middle" font-weight="normal" stroke="#1a1a1a" stroke-width="0.45" textLength="30.8" lengthAdjust="spacingAndGlyphs">Time (hrs)</text>
<text transform="translate(21.5,198.5) rotate(-90)" x="0" y="0" stroke="#1a1a1a" stroke-width="0.5" font-size="10" text-anchor="middle" textLength="76" lengthAdjust="spacingAndGlyphs">FXIIa-C1INH (% from T0)</text>
<polyline points="51.4,229.8 63.1,231.4 74.7,228.3 86.4,226.4 98.1,231.7 107.7,230.9 121.5,231.4 135.4,230.8 160.4,203.1" fill="none" stroke="#2a4f8f" stroke-width="1.35" stroke-linejoin="round"/>
<circle cx="51.4" cy="229.8" r="1.45" fill="#fff" stroke="#2a4f8f" stroke-width="1"/>
<circle cx="63.1" cy="231.4" r="1.45" fill="#fff" stroke="#2a4f8f" stroke-width="1"/>
<circle cx="74.7" cy="228.3" r="1.45" fill="#fff" stroke="#2a4f8f" stroke-width="1"/>
<circle cx="86.4" cy="226.4" r="1.45" fill="#fff" stroke="#2a4f8f" stroke-width="1"/>
<circle cx="98.1" cy="231.7" r="1.45" fill="#fff" stroke="#2a4f8f" stroke-width="1"/>
<circle cx="107.7" cy="230.9" r="1.45" fill="#fff" stroke="#2a4f8f" stroke-width="1"/>
<circle cx="121.5" cy="231.4" r="1.45" fill="#fff" stroke="#2a4f8f" stroke-width="1"/>
<circle cx="135.4" cy="230.8" r="1.45" fill="#fff" stroke="#2a4f8f" stroke-width="1"/>
<circle cx="160.4" cy="203.1" r="1.45" fill="#fff" stroke="#2a4f8f" stroke-width="1"/>
<line x1="63.1" y1="194.5" x2="63.1" y2="205" stroke="#3c3c3c" stroke-width="1.25"/>
<line x1="61.3" y1="194.5" x2="64.9" y2="194.5" stroke="#3c3c3c" stroke-width="1.1"/>
<line x1="61.3" y1="205" x2="64.9" y2="205" stroke="#3c3c3c" stroke-width="1.1"/>
<line x1="74.7" y1="168.8" x2="74.7" y2="190.3" stroke="#3c3c3c" stroke-width="1.25"/>
<line x1="72.9" y1="168.8" x2="76.5" y2="168.8" stroke="#3c3c3c" stroke-width="1.1"/>
<line x1="72.9" y1="190.3" x2="76.5" y2="190.3" stroke="#3c3c3c" stroke-width="1.1"/>
<line x1="86.4" y1="188.2" x2="86.4" y2="199.1" stroke="#3c3c3c" stroke-width="1.25"/>
<line x1="84.6" y1="188.2" x2="88.2" y2="188.2" stroke="#3c3c3c" stroke-width="1.1"/>
<line x1="84.6" y1="199.1" x2="88.2" y2="199.1" stroke="#3c3c3c" stroke-width="1.1"/>
<line x1="107.7" y1="209.5" x2="107.7" y2="218.5" stroke="#3c3c3c" stroke-width="1.25"/>
<line x1="105.9" y1="209.5" x2="109.5" y2="209.5" stroke="#3c3c3c" stroke-width="1.1"/>
<line x1="105.9" y1="218.5" x2="109.5" y2="218.5" stroke="#3c3c3c" stroke-width="1.1"/>
<polyline points="51.4,230.1 63.1,199.9 74.7,179.9 86.4,193.4 98.1,199.6 107.7,217.1" fill="none" stroke="#b5082f" stroke-width="1.35" stroke-linejoin="round"/>
<circle cx="51.4" cy="230.1" r="2.0" fill="#b5082f"/>
<circle cx="63.1" cy="199.9" r="2.0" fill="#b5082f"/>
<circle cx="74.7" cy="179.9" r="2.0" fill="#b5082f"/>
<circle cx="86.4" cy="193.4" r="2.0" fill="#b5082f"/>
<circle cx="98.1" cy="199.6" r="2.0" fill="#b5082f"/>
<rect x="105.8" y="215.2" width="3.8" height="3.8" fill="#b5082f"/>
<rect x="71.25" y="222.75" width="1.5" height="1.5" fill="#111"/>
<rect x="74.15" y="222.75" width="1.5" height="1.5" fill="#111"/>
<rect x="77.05" y="222.75" width="1.5" height="1.5" fill="#111"/>
<rect x="85.95" y="220.25" width="1.5" height="1.5" fill="#111"/>
<text x="180.8" y="153" font-size="12" text-anchor="start" font-weight="bold" stroke="#1a1a1a" stroke-width="0.28">E</text>
<line x1="224.3" y1="163.4" x2="224.3" y2="209.7" stroke="#1e1e1e" stroke-width="1.3"/>
<line x1="221.5" y1="209.7" x2="227.1" y2="209.7" stroke="#1e1e1e" stroke-width="1.2"/>
<line x1="224.3" y1="215.2" x2="224.3" y2="235.4" stroke="#1e1e1e" stroke-width="1.3"/>
<line x1="221.5" y1="215.2" x2="227.1" y2="215.2" stroke="#1e1e1e" stroke-width="1.2"/>
<line x1="221.6" y1="169.1" x2="224.3" y2="169.1" stroke="#1e1e1e" stroke-width="1.1"/>
<text x="218.4" y="172" font-size="8.2" text-anchor="end" font-weight="normal" stroke="#1a1a1a" stroke-width="0.18" textLength="18.3" lengthAdjust="spacingAndGlyphs">2000</text>
<line x1="221.6" y1="178.4" x2="224.3" y2="178.4" stroke="#1e1e1e" stroke-width="1.1"/>
<text x="218.4" y="181.3" font-size="8.2" text-anchor="end" font-weight="normal" stroke="#1a1a1a" stroke-width="0.18" textLength="18.3" lengthAdjust="spacingAndGlyphs">1600</text>
<line x1="221.6" y1="187.9" x2="224.3" y2="187.9" stroke="#1e1e1e" stroke-width="1.1"/>
<text x="218.4" y="190.8" font-size="8.2" text-anchor="end" font-weight="normal" stroke="#1a1a1a" stroke-width="0.18" textLength="18.3" lengthAdjust="spacingAndGlyphs">1200</text>
<line x1="221.6" y1="197.6" x2="224.3" y2="197.6" stroke="#1e1e1e" stroke-width="1.1"/>
<text x="218.4" y="200.5" font-size="8.2" text-anchor="end" font-weight="normal" stroke="#1a1a1a" stroke-width="0.18" textLength="13.8" lengthAdjust="spacingAndGlyphs">800</text>
<line x1="221.6" y1="207.3" x2="224.3" y2="207.3" stroke="#1e1e1e" stroke-width="1.1"/>
<text x="218.4" y="210.2" font-size="8.2" text-anchor="end" font-weight="normal" stroke="#1a1a1a" stroke-width="0.18" textLength="13.8" lengthAdjust="spacingAndGlyphs">400</text>
<line x1="221.6" y1="219.7" x2="224.3" y2="219.7" stroke="#1e1e1e" stroke-width="1.1"/>
<text x="218.4" y="222.6" font-size="8.2" text-anchor="end" font-weight="normal" stroke="#1a1a1a" stroke-width="0.18" textLength="13.8" lengthAdjust="spacingAndGlyphs">200</text>
<line x1="221.6" y1="227.5" x2="224.3" y2="227.5" stroke="#1e1e1e" stroke-width="1.1"/>
<text x="218.4" y="230.4" font-size="8.2" text-anchor="end" font-weight="normal" stroke="#1a1a1a" stroke-width="0.18" textLength="13.8" lengthAdjust="spacingAndGlyphs">100</text>
<line x1="221.6" y1="235.4" x2="224.3" y2="235.4" stroke="#1e1e1e" stroke-width="1.1"/>
<text x="218.4" y="238.3" font-size="8.2" text-anchor="end" font-weight="normal" stroke="#1a1a1a" stroke-width="0.18" textLength="4.8" lengthAdjust="spacingAndGlyphs">0</text>
<line x1="223.1" y1="235.4" x2="271" y2="235.4" stroke="#1e1e1e" stroke-width="1.3"/>
<line x1="271" y1="233.7" x2="271" y2="237.1" stroke="#1e1e1e" stroke-width="1.1"/>
<line x1="224.3" y1="235.4" x2="224.3" y2="238.6" stroke="#1e1e1e" stroke-width="1.1"/>
<line x1="236" y1="235.4" x2="236" y2="238.6" stroke="#1e1e1e" stroke-width="1.1"/>
<line x1="247.6" y1="235.4" x2="247.6" y2="238.6" stroke="#1e1e1e" stroke-width="1.1"/>
<line x1="259.3" y1="235.4" x2="259.3" y2="238.6" stroke="#1e1e1e" stroke-width="1.1"/>
<line x1="280.6" y1="235.4" x2="308.6" y2="235.4" stroke="#1e1e1e" stroke-width="1.3"/>
<line x1="280.6" y1="233.7" x2="280.6" y2="237.1" stroke="#1e1e1e" stroke-width="1.1"/>
<line x1="308.6" y1="233.7" x2="308.6" y2="237.1" stroke="#1e1e1e" stroke-width="1.1"/>
<line x1="294.4" y1="235.4" x2="294.4" y2="238.6" stroke="#1e1e1e" stroke-width="1.1"/>
<line x1="314.7" y1="235.4" x2="336.2" y2="235.4" stroke="#1e1e1e" stroke-width="1.3"/>
<line x1="314.7" y1="233.7" x2="314.7" y2="237.1" stroke="#1e1e1e" stroke-width="1.1"/>
<line x1="333.3" y1="235.4" x2="333.3" y2="238.6" stroke="#1e1e1e" stroke-width="1.1"/>
<text x="224.3" y="248.8" font-size="8.2" text-anchor="middle" font-weight="normal" stroke="#1a1a1a" stroke-width="0.18" textLength="4.8" lengthAdjust="spacingAndGlyphs">0</text>
<text x="236" y="248.8" font-size="8.2" text-anchor="middle" font-weight="normal" stroke="#1a1a1a" stroke-width="0.18" textLength="4.8" lengthAdjust="spacingAndGlyphs">2</text>
<text x="247.6" y="248.8" font-size="8.2" text-anchor="middle" font-weight="normal" stroke="#1a1a1a" stroke-width="0.18" textLength="4.8" lengthAdjust="spacingAndGlyphs">4</text>
<text x="259.3" y="248.8" font-size="8.2" text-anchor="middle" font-weight="normal" stroke="#1a1a1a" stroke-width="0.18" textLength="4.8" lengthAdjust="spacingAndGlyphs">6</text>
<text x="271" y="248.8" font-size="8.2" text-anchor="middle" font-weight="normal" stroke="#1a1a1a" stroke-width="0.18" textLength="4.8" lengthAdjust="spacingAndGlyphs">8</text>
<text x="281" y="248.8" font-size="8.2" text-anchor="middle" font-weight="normal" stroke="#1a1a1a" stroke-width="0.18" textLength="9.3" lengthAdjust="spacingAndGlyphs">24</text>
<text x="294.4" y="248.8" font-size="8.2" text-anchor="middle" font-weight="normal" stroke="#1a1a1a" stroke-width="0.18" textLength="9.3" lengthAdjust="spacingAndGlyphs">48</text>
<text x="308.3" y="248.8" font-size="8.2" text-anchor="middle" font-weight="normal" stroke="#1a1a1a" stroke-width="0.18" textLength="9.3" lengthAdjust="spacingAndGlyphs">72</text>
<text x="333.3" y="248.8" font-size="8.2" text-anchor="middle" font-weight="normal" stroke="#1a1a1a" stroke-width="0.18" textLength="13.8" lengthAdjust="spacingAndGlyphs">168</text>
<text x="280.9" y="262.8" font-size="10" text-anchor="middle" font-weight="normal" stroke="#1a1a1a" stroke-width="0.45" textLength="30.8" lengthAdjust="spacingAndGlyphs">Time (hrs)</text>
<text transform="translate(193.8,197.7) rotate(-90)" x="0" y="0" stroke="#1a1a1a" stroke-width="0.5" font-size="10" text-anchor="middle" textLength="60.7" lengthAdjust="spacingAndGlyphs">Kal-AT (% from T0)</text>
<line x1="236" y1="217.5" x2="236" y2="224.4" stroke="#3c3c3c" stroke-width="1.25"/>
<line x1="234.2" y1="217.5" x2="237.8" y2="217.5" stroke="#3c3c3c" stroke-width="1.1"/>
<line x1="234.2" y1="224.4" x2="237.8" y2="224.4" stroke="#3c3c3c" stroke-width="1.1"/>
<line x1="247.6" y1="217.9" x2="247.6" y2="224.4" stroke="#3c3c3c" stroke-width="1.25"/>
<line x1="245.8" y1="217.9" x2="249.4" y2="217.9" stroke="#3c3c3c" stroke-width="1.1"/>
<line x1="245.8" y1="224.4" x2="249.4" y2="224.4" stroke="#3c3c3c" stroke-width="1.1"/>
<line x1="259.3" y1="218" x2="259.3" y2="224.5" stroke="#3c3c3c" stroke-width="1.25"/>
<line x1="257.5" y1="218" x2="261.1" y2="218" stroke="#3c3c3c" stroke-width="1.1"/>
<line x1="257.5" y1="224.5" x2="261.1" y2="224.5" stroke="#3c3c3c" stroke-width="1.1"/>
<line x1="271" y1="222.9" x2="271" y2="227.2" stroke="#3c3c3c" stroke-width="1.25"/>
<line x1="269.2" y1="222.9" x2="272.8" y2="222.9" stroke="#3c3c3c" stroke-width="1.1"/>
<line x1="269.2" y1="227.2" x2="272.8" y2="227.2" stroke="#3c3c3c" stroke-width="1.1"/>
<polyline points="224.3,227.5 236,221.3 247.6,221.3 259.3,221.3 271,225.2 280.6,231.7 294.4,232.6 308.3,232.9 333.3,230.2" fill="none" stroke="#2a4f8f" stroke-width="1.35" stroke-linejoin="round"/>
<circle cx="224.3" cy="227.5" r="1.45" fill="#fff" stroke="#2a4f8f" stroke-width="1"/>
<circle cx="236" cy="221.3" r="1.45" fill="#fff" stroke="#2a4f8f" stroke-width="1"/>
<circle cx="247.6" cy="221.3" r="1.45" fill="#fff" stroke="#2a4f8f" stroke-width="1"/>
<circle cx="259.3" cy="221.3" r="1.45" fill="#fff" stroke="#2a4f8f" stroke-width="1"/>
<circle cx="271" cy="225.2" r="1.45" fill="#fff" stroke="#2a4f8f" stroke-width="1"/>
<circle cx="280.6" cy="231.7" r="1.45" fill="#fff" stroke="#2a4f8f" stroke-width="1"/>
<circle cx="294.4" cy="232.6" r="1.45" fill="#fff" stroke="#2a4f8f" stroke-width="1"/>
<circle cx="308.3" cy="232.9" r="1.45" fill="#fff" stroke="#2a4f8f" stroke-width="1"/>
<circle cx="333.3" cy="230.2" r="1.45" fill="#fff" stroke="#2a4f8f" stroke-width="1"/>
<line x1="236" y1="170.6" x2="236" y2="185.8" stroke="#3c3c3c" stroke-width="1.25"/>
<line x1="234.2" y1="170.6" x2="237.8" y2="170.6" stroke="#3c3c3c" stroke-width="1.1"/>
<line x1="234.2" y1="185.8" x2="237.8" y2="185.8" stroke="#3c3c3c" stroke-width="1.1"/>
<line x1="247.6" y1="178.4" x2="247.6" y2="187" stroke="#3c3c3c" stroke-width="1.25"/>
<line x1="245.8" y1="178.4" x2="249.4" y2="178.4" stroke="#3c3c3c" stroke-width="1.1"/>
<line x1="245.8" y1="187" x2="249.4" y2="187" stroke="#3c3c3c" stroke-width="1.1"/>
<line x1="259.3" y1="184.5" x2="259.3" y2="190.5" stroke="#3c3c3c" stroke-width="1.25"/>
<line x1="257.5" y1="184.5" x2="261.1" y2="184.5" stroke="#3c3c3c" stroke-width="1.1"/>
<line x1="257.5" y1="190.5" x2="261.1" y2="190.5" stroke="#3c3c3c" stroke-width="1.1"/>
<line x1="271" y1="187.6" x2="271" y2="193.4" stroke="#3c3c3c" stroke-width="1.25"/>
<line x1="269.2" y1="187.6" x2="272.8" y2="187.6" stroke="#3c3c3c" stroke-width="1.1"/>
<line x1="269.2" y1="193.4" x2="272.8" y2="193.4" stroke="#3c3c3c" stroke-width="1.1"/>
<line x1="280.6" y1="167.3" x2="280.6" y2="198.3" stroke="#3c3c3c" stroke-width="1.25"/>
<line x1="278.8" y1="167.3" x2="282.4" y2="167.3" stroke="#3c3c3c" stroke-width="1.1"/>
<line x1="278.8" y1="198.3" x2="282.4" y2="198.3" stroke="#3c3c3c" stroke-width="1.1"/>
<polyline points="224.3,227.5 236,178.1 247.6,182.8 259.3,187.3 271,190.6 280.6,183" fill="none" stroke="#b5082f" stroke-width="1.35" stroke-linejoin="round"/>
<circle cx="224.3" cy="227.5" r="2.0" fill="#b5082f"/>
<circle cx="236" cy="178.1" r="2.0" fill="#b5082f"/>
<circle cx="247.6" cy="182.8" r="2.0" fill="#b5082f"/>
<circle cx="259.3" cy="187.3" r="2.0" fill="#b5082f"/>
<circle cx="271" cy="190.6" r="2.0" fill="#b5082f"/>
<circle cx="280.6" cy="183" r="2.0" fill="#b5082f"/>
<rect x="232.55" y="213.25" width="1.5" height="1.5" fill="#111"/>
<rect x="235.45" y="213.25" width="1.5" height="1.5" fill="#111"/>
<rect x="238.35" y="213.25" width="1.5" height="1.5" fill="#111"/>
<rect x="244.05" y="210.15" width="1.5" height="1.5" fill="#111"/>
<rect x="246.95" y="210.15" width="1.5" height="1.5" fill="#111"/>
<rect x="249.85" y="210.15" width="1.5" height="1.5" fill="#111"/>
<rect x="255.75" y="214.85" width="1.5" height="1.5" fill="#111"/>
<rect x="258.65" y="214.85" width="1.5" height="1.5" fill="#111"/>
<rect x="261.55" y="214.85" width="1.5" height="1.5" fill="#111"/>
<rect x="267.35" y="218.25" width="1.5" height="1.5" fill="#111"/>
<rect x="270.25" y="218.25" width="1.5" height="1.5" fill="#111"/>
<rect x="273.15" y="218.25" width="1.5" height="1.5" fill="#111"/>
<rect x="277.05" y="225.65" width="1.5" height="1.5" fill="#111"/>
<rect x="279.95" y="225.65" width="1.5" height="1.5" fill="#111"/>
<rect x="282.85" y="225.65" width="1.5" height="1.5" fill="#111"/>
<text x="353.8" y="153" font-size="12" text-anchor="start" font-weight="bold" stroke="#1a1a1a" stroke-width="0.28">F</text>
<line x1="397" y1="160.4" x2="397" y2="209.6" stroke="#1e1e1e" stroke-width="1.3"/>
<line x1="394.2" y1="209.6" x2="399.8" y2="209.6" stroke="#1e1e1e" stroke-width="1.2"/>
<line x1="397" y1="216" x2="397" y2="235.4" stroke="#1e1e1e" stroke-width="1.3"/>
<line x1="394.2" y1="216" x2="399.8" y2="216" stroke="#1e1e1e" stroke-width="1.2"/>
<line x1="394.3" y1="163" x2="397" y2="163" stroke="#1e1e1e" stroke-width="1.1"/>
<text x="391.1" y="165.9" font-size="8.2" text-anchor="end" font-weight="normal" stroke="#1a1a1a" stroke-width="0.18" textLength="18.3" lengthAdjust="spacingAndGlyphs">1500</text>
<line x1="394.3" y1="173.9" x2="397" y2="173.9" stroke="#1e1e1e" stroke-width="1.1"/>
<text x="391.1" y="176.8" font-size="8.2" text-anchor="end" font-weight="normal" stroke="#1a1a1a" stroke-width="0.18" textLength="18.3" lengthAdjust="spacingAndGlyphs">1200</text>
<line x1="394.3" y1="184.6" x2="397" y2="184.6" stroke="#1e1e1e" stroke-width="1.1"/>
<text x="391.1" y="187.5" font-size="8.2" text-anchor="end" font-weight="normal" stroke="#1a1a1a" stroke-width="0.18" textLength="13.8" lengthAdjust="spacingAndGlyphs">900</text>
<line x1="394.3" y1="195.4" x2="397" y2="195.4" stroke="#1e1e1e" stroke-width="1.1"/>
<text x="391.1" y="198.3" font-size="8.2" text-anchor="end" font-weight="normal" stroke="#1a1a1a" stroke-width="0.18" textLength="13.8" lengthAdjust="spacingAndGlyphs">600</text>
<line x1="394.3" y1="206.1" x2="397" y2="206.1" stroke="#1e1e1e" stroke-width="1.1"/>
<text x="391.1" y="209" font-size="8.2" text-anchor="end" font-weight="normal" stroke="#1a1a1a" stroke-width="0.18" textLength="13.8" lengthAdjust="spacingAndGlyphs">300</text>
<line x1="394.3" y1="216" x2="397" y2="216" stroke="#1e1e1e" stroke-width="1.1"/>
<text x="391.1" y="218.9" font-size="8.2" text-anchor="end" font-weight="normal" stroke="#1a1a1a" stroke-width="0.18" textLength="13.8" lengthAdjust="spacingAndGlyphs">200</text>
<line x1="394.3" y1="225.7" x2="397" y2="225.7" stroke="#1e1e1e" stroke-width="1.1"/>
<text x="391.1" y="228.6" font-size="8.2" text-anchor="end" font-weight="normal" stroke="#1a1a1a" stroke-width="0.18" textLength="13.8" lengthAdjust="spacingAndGlyphs">100</text>
<line x1="394.3" y1="235.4" x2="397" y2="235.4" stroke="#1e1e1e" stroke-width="1.1"/>
<text x="391.1" y="238.3" font-size="8.2" text-anchor="end" font-weight="normal" stroke="#1a1a1a" stroke-width="0.18" textLength="4.8" lengthAdjust="spacingAndGlyphs">0</text>
<line x1="395.8" y1="235.4" x2="443.7" y2="235.4" stroke="#1e1e1e" stroke-width="1.3"/>
<line x1="443.7" y1="233.7" x2="443.7" y2="237.1" stroke="#1e1e1e" stroke-width="1.1"/>
<line x1="397" y1="235.4" x2="397" y2="238.6" stroke="#1e1e1e" stroke-width="1.1"/>
<line x1="408.7" y1="235.4" x2="408.7" y2="238.6" stroke="#1e1e1e" stroke-width="1.1"/>
<line x1="420.3" y1="235.4" x2="420.3" y2="238.6" stroke="#1e1e1e" stroke-width="1.1"/>
<line x1="432" y1="235.4" x2="432" y2="238.6" stroke="#1e1e1e" stroke-width="1.1"/>
<line x1="453.3" y1="235.4" x2="481.3" y2="235.4" stroke="#1e1e1e" stroke-width="1.3"/>
<line x1="453.3" y1="233.7" x2="453.3" y2="237.1" stroke="#1e1e1e" stroke-width="1.1"/>
<line x1="481.3" y1="233.7" x2="481.3" y2="237.1" stroke="#1e1e1e" stroke-width="1.1"/>
<line x1="467.1" y1="235.4" x2="467.1" y2="238.6" stroke="#1e1e1e" stroke-width="1.1"/>
<line x1="487.4" y1="235.4" x2="508.9" y2="235.4" stroke="#1e1e1e" stroke-width="1.3"/>
<line x1="487.4" y1="233.7" x2="487.4" y2="237.1" stroke="#1e1e1e" stroke-width="1.1"/>
<line x1="506" y1="235.4" x2="506" y2="238.6" stroke="#1e1e1e" stroke-width="1.1"/>
<text x="397" y="248.8" font-size="8.2" text-anchor="middle" font-weight="normal" stroke="#1a1a1a" stroke-width="0.18" textLength="4.8" lengthAdjust="spacingAndGlyphs">0</text>
<text x="408.7" y="248.8" font-size="8.2" text-anchor="middle" font-weight="normal" stroke="#1a1a1a" stroke-width="0.18" textLength="4.8" lengthAdjust="spacingAndGlyphs">2</text>
<text x="420.3" y="248.8" font-size="8.2" text-anchor="middle" font-weight="normal" stroke="#1a1a1a" stroke-width="0.18" textLength="4.8" lengthAdjust="spacingAndGlyphs">4</text>
<text x="432" y="248.8" font-size="8.2" text-anchor="middle" font-weight="normal" stroke="#1a1a1a" stroke-width="0.18" textLength="4.8" lengthAdjust="spacingAndGlyphs">6</text>
<text x="443.7" y="248.8" font-size="8.2" text-anchor="middle" font-weight="normal" stroke="#1a1a1a" stroke-width="0.18" textLength="4.8" lengthAdjust="spacingAndGlyphs">8</text>
<text x="453.7" y="248.8" font-size="8.2" text-anchor="middle" font-weight="normal" stroke="#1a1a1a" stroke-width="0.18" textLength="9.3" lengthAdjust="spacingAndGlyphs">24</text>
<text x="467.1" y="248.8" font-size="8.2" text-anchor="middle" font-weight="normal" stroke="#1a1a1a" stroke-width="0.18" textLength="9.3" lengthAdjust="spacingAndGlyphs">48</text>
<text x="481" y="248.8" font-size="8.2" text-anchor="middle" font-weight="normal" stroke="#1a1a1a" stroke-width="0.18" textLength="9.3" lengthAdjust="spacingAndGlyphs">72</text>
<text x="506" y="248.8" font-size="8.2" text-anchor="middle" font-weight="normal" stroke="#1a1a1a" stroke-width="0.18" textLength="13.8" lengthAdjust="spacingAndGlyphs">168</text>
<text x="453.6" y="262.8" font-size="10" text-anchor="middle" font-weight="normal" stroke="#1a1a1a" stroke-width="0.45" textLength="30.8" lengthAdjust="spacingAndGlyphs">Time (hrs)</text>
<text transform="translate(366.5,198.5) rotate(-90)" x="0" y="0" stroke="#1a1a1a" stroke-width="0.5" font-size="10" text-anchor="middle" textLength="69.3" lengthAdjust="spacingAndGlyphs">Kal-C1INH (% over T0)</text>
<line x1="408.7" y1="208.4" x2="408.7" y2="222.5" stroke="#3c3c3c" stroke-width="1.25"/>
<line x1="406.9" y1="208.4" x2="410.5" y2="208.4" stroke="#3c3c3c" stroke-width="1.1"/>
<line x1="406.9" y1="222.5" x2="410.5" y2="222.5" stroke="#3c3c3c" stroke-width="1.1"/>
<line x1="420.3" y1="218.6" x2="420.3" y2="225.2" stroke="#3c3c3c" stroke-width="1.25"/>
<line x1="418.5" y1="218.6" x2="422.1" y2="218.6" stroke="#3c3c3c" stroke-width="1.1"/>
<line x1="418.5" y1="225.2" x2="422.1" y2="225.2" stroke="#3c3c3c" stroke-width="1.1"/>
<line x1="432" y1="219" x2="432" y2="225" stroke="#3c3c3c" stroke-width="1.25"/>
<line x1="430.2" y1="219" x2="433.8" y2="219" stroke="#3c3c3c" stroke-width="1.1"/>
<line x1="430.2" y1="225" x2="433.8" y2="225" stroke="#3c3c3c" stroke-width="1.1"/>
<line x1="443.7" y1="218.6" x2="443.7" y2="227.2" stroke="#3c3c3c" stroke-width="1.25"/>
<line x1="441.9" y1="218.6" x2="445.5" y2="218.6" stroke="#3c3c3c" stroke-width="1.1"/>
<line x1="441.9" y1="227.2" x2="445.5" y2="227.2" stroke="#3c3c3c" stroke-width="1.1"/>
<line x1="453.3" y1="218.6" x2="453.3" y2="224.4" stroke="#3c3c3c" stroke-width="1.25"/>
<line x1="451.5" y1="218.6" x2="455.1" y2="218.6" stroke="#3c3c3c" stroke-width="1.1"/>
<line x1="451.5" y1="224.4" x2="455.1" y2="224.4" stroke="#3c3c3c" stroke-width="1.1"/>
<line x1="467.1" y1="208.4" x2="467.1" y2="227.3" stroke="#3c3c3c" stroke-width="1.25"/>
<line x1="465.3" y1="208.4" x2="468.9" y2="208.4" stroke="#3c3c3c" stroke-width="1.1"/>
<line x1="465.3" y1="227.3" x2="468.9" y2="227.3" stroke="#3c3c3c" stroke-width="1.1"/>
<line x1="481" y1="208.4" x2="481" y2="227.3" stroke="#3c3c3c" stroke-width="1.25"/>
<line x1="479.2" y1="208.4" x2="482.8" y2="208.4" stroke="#3c3c3c" stroke-width="1.1"/>
<line x1="479.2" y1="227.3" x2="482.8" y2="227.3" stroke="#3c3c3c" stroke-width="1.1"/>
<line x1="506" y1="194.7" x2="506" y2="207.2" stroke="#3c3c3c" stroke-width="1.25"/>
<line x1="504.4" y1="194.7" x2="506.5" y2="194.7" stroke="#3c3c3c" stroke-width="1.1"/>
<line x1="504.4" y1="207.2" x2="506.5" y2="207.2" stroke="#3c3c3c" stroke-width="1.1"/>
<polyline points="397,225.8 408.7,217.6 420.3,222 432,222 443.7,222.8 453.3,221.7 467.1,220 481,219.3 506,200.8" fill="none" stroke="#2a4f8f" stroke-width="1.35" stroke-linejoin="round"/>
<circle cx="397" cy="225.8" r="1.45" fill="#fff" stroke="#2a4f8f" stroke-width="1"/>
<circle cx="408.7" cy="217.6" r="1.45" fill="#fff" stroke="#2a4f8f" stroke-width="1"/>
<circle cx="420.3" cy="222" r="1.45" fill="#fff" stroke="#2a4f8f" stroke-width="1"/>
<circle cx="432" cy="222" r="1.45" fill="#fff" stroke="#2a4f8f" stroke-width="1"/>
<circle cx="443.7" cy="222.8" r="1.45" fill="#fff" stroke="#2a4f8f" stroke-width="1"/>
<circle cx="453.3" cy="221.7" r="1.45" fill="#fff" stroke="#2a4f8f" stroke-width="1"/>
<circle cx="467.1" cy="220" r="1.45" fill="#fff" stroke="#2a4f8f" stroke-width="1"/>
<circle cx="481" cy="219.3" r="1.45" fill="#fff" stroke="#2a4f8f" stroke-width="1"/>
<circle cx="506" cy="200.8" r="1.45" fill="#fff" stroke="#2a4f8f" stroke-width="1"/>
<line x1="408.7" y1="191.4" x2="408.7" y2="203.1" stroke="#3c3c3c" stroke-width="1.25"/>
<line x1="406.9" y1="191.4" x2="410.5" y2="191.4" stroke="#3c3c3c" stroke-width="1.1"/>
<line x1="406.9" y1="203.1" x2="410.5" y2="203.1" stroke="#3c3c3c" stroke-width="1.1"/>
<line x1="420.3" y1="165.4" x2="420.3" y2="191.3" stroke="#3c3c3c" stroke-width="1.25"/>
<line x1="418.5" y1="165.4" x2="422.1" y2="165.4" stroke="#3c3c3c" stroke-width="1.1"/>
<line x1="418.5" y1="191.3" x2="422.1" y2="191.3" stroke="#3c3c3c" stroke-width="1.1"/>
<line x1="432" y1="168.4" x2="432" y2="187" stroke="#3c3c3c" stroke-width="1.25"/>
<line x1="430.2" y1="168.4" x2="433.8" y2="168.4" stroke="#3c3c3c" stroke-width="1.1"/>
<line x1="430.2" y1="187" x2="433.8" y2="187" stroke="#3c3c3c" stroke-width="1.1"/>
<line x1="443.7" y1="195" x2="443.7" y2="199.4" stroke="#3c3c3c" stroke-width="1.25"/>
<line x1="441.9" y1="195" x2="445.5" y2="195" stroke="#3c3c3c" stroke-width="1.1"/>
<line x1="441.9" y1="199.4" x2="445.5" y2="199.4" stroke="#3c3c3c" stroke-width="1.1"/>
<polyline points="397,225.8 408.7,197.4 420.3,178.5 432,177.7 443.7,197.2 453.3,209.6" fill="none" stroke="#b5082f" stroke-width="1.35" stroke-linejoin="round"/>
<circle cx="397" cy="225.8" r="2.0" fill="#b5082f"/>
<circle cx="408.7" cy="197.4" r="2.0" fill="#b5082f"/>
<circle cx="420.3" cy="178.5" r="2.0" fill="#b5082f"/>
<circle cx="432" cy="177.7" r="2.0" fill="#b5082f"/>
<circle cx="443.7" cy="197.2" r="2.0" fill="#b5082f"/>
<circle cx="453.3" cy="209.6" r="2.0" fill="#b5082f"/>
<rect x="407.55" y="225.65" width="1.5" height="1.5" fill="#111"/>
<rect x="416.45" y="214.45" width="1.5" height="1.5" fill="#111"/>
<rect x="419.35" y="214.45" width="1.5" height="1.5" fill="#111"/>
<rect x="422.25" y="214.45" width="1.5" height="1.5" fill="#111"/>
<rect x="428.05" y="216.35" width="1.5" height="1.5" fill="#111"/>
<rect x="430.95" y="216.35" width="1.5" height="1.5" fill="#111"/>
<rect x="433.85" y="216.35" width="1.5" height="1.5" fill="#111"/>
<rect x="442.65" y="214.05" width="1.5" height="1.5" fill="#111"/>
<text x="7.8" y="290.7" font-size="12" text-anchor="start" font-weight="bold" stroke="#1a1a1a" stroke-width="0.28">G</text>
<line x1="51.4" y1="298.1" x2="51.4" y2="347" stroke="#1e1e1e" stroke-width="1.3"/>
<line x1="48.6" y1="347" x2="54.2" y2="347" stroke="#1e1e1e" stroke-width="1.2"/>
<line x1="51.4" y1="352.5" x2="51.4" y2="373.3" stroke="#1e1e1e" stroke-width="1.3"/>
<line x1="48.6" y1="352.5" x2="54.2" y2="352.5" stroke="#1e1e1e" stroke-width="1.2"/>
<line x1="48.7" y1="300.7" x2="51.4" y2="300.7" stroke="#1e1e1e" stroke-width="1.1"/>
<text x="45.5" y="303.6" font-size="8.2" text-anchor="end" font-weight="normal" stroke="#1a1a1a" stroke-width="0.18" textLength="22.8" lengthAdjust="spacingAndGlyphs">10000</text>
<line x1="48.7" y1="310.7" x2="51.4" y2="310.7" stroke="#1e1e1e" stroke-width="1.1"/>
<text x="45.5" y="313.6" font-size="8.2" text-anchor="end" font-weight="normal" stroke="#1a1a1a" stroke-width="0.18" textLength="18.3" lengthAdjust="spacingAndGlyphs">8000</text>
<line x1="48.7" y1="320.3" x2="51.4" y2="320.3" stroke="#1e1e1e" stroke-width="1.1"/>
<text x="45.5" y="323.2" font-size="8.2" text-anchor="end" font-weight="normal" stroke="#1a1a1a" stroke-width="0.18" textLength="18.3" lengthAdjust="spacingAndGlyphs">6000</text>
<line x1="48.7" y1="329.8" x2="51.4" y2="329.8" stroke="#1e1e1e" stroke-width="1.1"/>
<text x="45.5" y="332.7" font-size="8.2" text-anchor="end" font-weight="normal" stroke="#1a1a1a" stroke-width="0.18" textLength="18.3" lengthAdjust="spacingAndGlyphs">4000</text>
<line x1="48.7" y1="340.1" x2="51.4" y2="340.1" stroke="#1e1e1e" stroke-width="1.1"/>
<text x="45.5" y="343" font-size="8.2" text-anchor="end" font-weight="normal" stroke="#1a1a1a" stroke-width="0.18" textLength="18.3" lengthAdjust="spacingAndGlyphs">2000</text>
<line x1="48.7" y1="353.2" x2="51.4" y2="353.2" stroke="#1e1e1e" stroke-width="1.1"/>
<text x="45.5" y="356.1" font-size="8.2" text-anchor="end" font-weight="normal" stroke="#1a1a1a" stroke-width="0.18" textLength="13.8" lengthAdjust="spacingAndGlyphs">500</text>
<line x1="48.7" y1="363.2" x2="51.4" y2="363.2" stroke="#1e1e1e" stroke-width="1.1"/>
<text x="45.5" y="366.1" font-size="8.2" text-anchor="end" font-weight="normal" stroke="#1a1a1a" stroke-width="0.18" textLength="13.8" lengthAdjust="spacingAndGlyphs">250</text>
<line x1="48.7" y1="373.3" x2="51.4" y2="373.3" stroke="#1e1e1e" stroke-width="1.1"/>
<text x="45.5" y="376.2" font-size="8.2" text-anchor="end" font-weight="normal" stroke="#1a1a1a" stroke-width="0.18" textLength="4.8" lengthAdjust="spacingAndGlyphs">0</text>
<line x1="50.2" y1="373.3" x2="98.1" y2="373.3" stroke="#1e1e1e" stroke-width="1.3"/>
<line x1="98.1" y1="371.6" x2="98.1" y2="375" stroke="#1e1e1e" stroke-width="1.1"/>
<line x1="51.4" y1="373.3" x2="51.4" y2="376.5" stroke="#1e1e1e" stroke-width="1.1"/>
<line x1="63.1" y1="373.3" x2="63.1" y2="376.5" stroke="#1e1e1e" stroke-width="1.1"/>
<line x1="74.7" y1="373.3" x2="74.7" y2="376.5" stroke="#1e1e1e" stroke-width="1.1"/>
<line x1="86.4" y1="373.3" x2="86.4" y2="376.5" stroke="#1e1e1e" stroke-width="1.1"/>
<line x1="107.7" y1="373.3" x2="135.7" y2="373.3" stroke="#1e1e1e" stroke-width="1.3"/>
<line x1="107.7" y1="371.6" x2="107.7" y2="375" stroke="#1e1e1e" stroke-width="1.1"/>
<line x1="135.7" y1="371.6" x2="135.7" y2="375" stroke="#1e1e1e" stroke-width="1.1"/>
<line x1="121.5" y1="373.3" x2="121.5" y2="376.5" stroke="#1e1e1e" stroke-width="1.1"/>
<line x1="141.8" y1="373.3" x2="163.3" y2="373.3" stroke="#1e1e1e" stroke-width="1.3"/>
<line x1="141.8" y1="371.6" x2="141.8" y2="375" stroke="#1e1e1e" stroke-width="1.1"/>
<line x1="160.4" y1="373.3" x2="160.4" y2="376.5" stroke="#1e1e1e" stroke-width="1.1"/>
<text x="51.4" y="386.7" font-size="8.2" text-anchor="middle" font-weight="normal" stroke="#1a1a1a" stroke-width="0.18" textLength="4.8" lengthAdjust="spacingAndGlyphs">0</text>
<text x="63.1" y="386.7" font-size="8.2" text-anchor="middle" font-weight="normal" stroke="#1a1a1a" stroke-width="0.18" textLength="4.8" lengthAdjust="spacingAndGlyphs">2</text>
<text x="74.7" y="386.7" font-size="8.2" text-anchor="middle" font-weight="normal" stroke="#1a1a1a" stroke-width="0.18" textLength="4.8" lengthAdjust="spacingAndGlyphs">4</text>
<text x="86.4" y="386.7" font-size="8.2" text-anchor="middle" font-weight="normal" stroke="#1a1a1a" stroke-width="0.18" textLength="4.8" lengthAdjust="spacingAndGlyphs">6</text>
<text x="98.1" y="386.7" font-size="8.2" text-anchor="middle" font-weight="normal" stroke="#1a1a1a" stroke-width="0.18" textLength="4.8" lengthAdjust="spacingAndGlyphs">8</text>
<text x="108.1" y="386.7" font-size="8.2" text-anchor="middle" font-weight="normal" stroke="#1a1a1a" stroke-width="0.18" textLength="9.3" lengthAdjust="spacingAndGlyphs">24</text>
<text x="121.5" y="386.7" font-size="8.2" text-anchor="middle" font-weight="normal" stroke="#1a1a1a" stroke-width="0.18" textLength="9.3" lengthAdjust="spacingAndGlyphs">48</text>
<text x="135.4" y="386.7" font-size="8.2" text-anchor="middle" font-weight="normal" stroke="#1a1a1a" stroke-width="0.18" textLength="9.3" lengthAdjust="spacingAndGlyphs">72</text>
<text x="160.4" y="386.7" font-size="8.2" text-anchor="middle" font-weight="normal" stroke="#1a1a1a" stroke-width="0.18" textLength="13.8" lengthAdjust="spacingAndGlyphs">168</text>
<text x="108" y="400.7" font-size="10" text-anchor="middle" font-weight="normal" stroke="#1a1a1a" stroke-width="0.45" textLength="30.8" lengthAdjust="spacingAndGlyphs">Time (hrs)</text>
<text transform="translate(16.7,335.7) rotate(-90)" x="0" y="0" stroke="#1a1a1a" stroke-width="0.5" font-size="10" text-anchor="middle" textLength="62.4" lengthAdjust="spacingAndGlyphs">FXIa-AT (% from T0)</text>
<line x1="74.7" y1="357.5" x2="74.7" y2="362.5" stroke="#3c3c3c" stroke-width="1.25"/>
<line x1="72.9" y1="357.5" x2="76.5" y2="357.5" stroke="#3c3c3c" stroke-width="1.1"/>
<line x1="72.9" y1="362.5" x2="76.5" y2="362.5" stroke="#3c3c3c" stroke-width="1.1"/>
<line x1="86.4" y1="358.5" x2="86.4" y2="363.5" stroke="#3c3c3c" stroke-width="1.25"/>
<line x1="84.6" y1="358.5" x2="88.2" y2="358.5" stroke="#3c3c3c" stroke-width="1.1"/>
<line x1="84.6" y1="363.5" x2="88.2" y2="363.5" stroke="#3c3c3c" stroke-width="1.1"/>
<line x1="98.1" y1="359.9" x2="98.1" y2="365.6" stroke="#3c3c3c" stroke-width="1.25"/>
<line x1="96.3" y1="359.9" x2="99.9" y2="359.9" stroke="#3c3c3c" stroke-width="1.1"/>
<line x1="96.3" y1="365.6" x2="99.9" y2="365.6" stroke="#3c3c3c" stroke-width="1.1"/>
<polyline points="51.4,369.4 63.1,363 74.7,360.2 86.4,361 98.1,362.8 107.7,371 121.5,371.5 135.4,371.3 160.4,370.3" fill="none" stroke="#2a4f8f" stroke-width="1.35" stroke-linejoin="round"/>
<circle cx="51.4" cy="369.4" r="1.45" fill="#fff" stroke="#2a4f8f" stroke-width="1"/>
<circle cx="63.1" cy="363" r="1.45" fill="#fff" stroke="#2a4f8f" stroke-width="1"/>
<circle cx="74.7" cy="360.2" r="1.45" fill="#fff" stroke="#2a4f8f" stroke-width="1"/>
<circle cx="86.4" cy="361" r="1.45" fill="#fff" stroke="#2a4f8f" stroke-width="1"/>
<circle cx="98.1" cy="362.8" r="1.45" fill="#fff" stroke="#2a4f8f" stroke-width="1"/>
<circle cx="107.7" cy="371" r="1.45" fill="#fff" stroke="#2a4f8f" stroke-width="1"/>
<circle cx="121.5" cy="371.5" r="1.45" fill="#fff" stroke="#2a4f8f" stroke-width="1"/>
<circle cx="135.4" cy="371.3" r="1.45" fill="#fff" stroke="#2a4f8f" stroke-width="1"/>
<circle cx="160.4" cy="370.3" r="1.45" fill="#fff" stroke="#2a4f8f" stroke-width="1"/>
<line x1="63.1" y1="316.2" x2="63.1" y2="328.8" stroke="#3c3c3c" stroke-width="1.25"/>
<line x1="61.3" y1="316.2" x2="64.9" y2="316.2" stroke="#3c3c3c" stroke-width="1.1"/>
<line x1="61.3" y1="328.8" x2="64.9" y2="328.8" stroke="#3c3c3c" stroke-width="1.1"/>
<line x1="74.7" y1="316.2" x2="74.7" y2="329" stroke="#3c3c3c" stroke-width="1.25"/>
<line x1="72.9" y1="316.2" x2="76.5" y2="316.2" stroke="#3c3c3c" stroke-width="1.1"/>
<line x1="72.9" y1="329" x2="76.5" y2="329" stroke="#3c3c3c" stroke-width="1.1"/>
<line x1="86.4" y1="320.4" x2="86.4" y2="330.3" stroke="#3c3c3c" stroke-width="1.25"/>
<line x1="84.6" y1="320.4" x2="88.2" y2="320.4" stroke="#3c3c3c" stroke-width="1.1"/>
<line x1="84.6" y1="330.3" x2="88.2" y2="330.3" stroke="#3c3c3c" stroke-width="1.1"/>
<line x1="98.1" y1="324.8" x2="98.1" y2="332.2" stroke="#3c3c3c" stroke-width="1.25"/>
<line x1="96.3" y1="324.8" x2="99.9" y2="324.8" stroke="#3c3c3c" stroke-width="1.1"/>
<line x1="96.3" y1="332.2" x2="99.9" y2="332.2" stroke="#3c3c3c" stroke-width="1.1"/>
<line x1="107.7" y1="303.5" x2="107.7" y2="334.3" stroke="#3c3c3c" stroke-width="1.25"/>
<line x1="105.9" y1="303.5" x2="109.5" y2="303.5" stroke="#3c3c3c" stroke-width="1.1"/>
<line x1="105.9" y1="334.3" x2="109.5" y2="334.3" stroke="#3c3c3c" stroke-width="1.1"/>
<polyline points="51.4,369.4 63.1,322.4 74.7,322.4 86.4,325.6 98.1,328.8 107.7,319.1" fill="none" stroke="#b5082f" stroke-width="1.35" stroke-linejoin="round"/>
<circle cx="51.4" cy="369.4" r="2.0" fill="#b5082f"/>
<circle cx="63.1" cy="322.4" r="2.0" fill="#b5082f"/>
<circle cx="74.7" cy="322.4" r="2.0" fill="#b5082f"/>
<circle cx="86.4" cy="325.6" r="2.0" fill="#b5082f"/>
<circle cx="98.1" cy="328.8" r="2.0" fill="#b5082f"/>
<circle cx="107.7" cy="319.1" r="2.0" fill="#b5082f"/>
<rect x="59.85" y="356.55" width="1.5" height="1.5" fill="#111"/>
<rect x="62.75" y="356.55" width="1.5" height="1.5" fill="#111"/>
<rect x="65.65" y="356.55" width="1.5" height="1.5" fill="#111"/>
<rect x="71.45" y="352.95" width="1.5" height="1.5" fill="#111"/>
<rect x="74.35" y="352.95" width="1.5" height="1.5" fill="#111"/>
<rect x="77.25" y="352.95" width="1.5" height="1.5" fill="#111"/>
<rect x="83.05" y="349.05" width="1.5" height="1.5" fill="#111"/>
<rect x="85.95" y="349.05" width="1.5" height="1.5" fill="#111"/>
<rect x="88.85" y="349.05" width="1.5" height="1.5" fill="#111"/>
<rect x="94.35" y="355.25" width="1.5" height="1.5" fill="#111"/>
<rect x="97.25" y="355.25" width="1.5" height="1.5" fill="#111"/>
<rect x="100.15" y="355.25" width="1.5" height="1.5" fill="#111"/>
<rect x="104.15" y="363.05" width="1.5" height="1.5" fill="#111"/>
<rect x="107.05" y="363.05" width="1.5" height="1.5" fill="#111"/>
<rect x="109.95" y="363.05" width="1.5" height="1.5" fill="#111"/>
<text x="180.8" y="290.7" font-size="12" text-anchor="start" font-weight="bold" stroke="#1a1a1a" stroke-width="0.28">H</text>
<line x1="224.3" y1="298.1" x2="224.3" y2="347.3" stroke="#1e1e1e" stroke-width="1.3"/>
<line x1="221.5" y1="347.3" x2="227.1" y2="347.3" stroke="#1e1e1e" stroke-width="1.2"/>
<line x1="224.3" y1="352.8" x2="224.3" y2="373.3" stroke="#1e1e1e" stroke-width="1.3"/>
<line x1="221.5" y1="352.8" x2="227.1" y2="352.8" stroke="#1e1e1e" stroke-width="1.2"/>
<line x1="221.6" y1="300.7" x2="224.3" y2="300.7" stroke="#1e1e1e" stroke-width="1.1"/>
<text x="218.4" y="303.6" font-size="8.2" text-anchor="end" font-weight="normal" stroke="#1a1a1a" stroke-width="0.18" textLength="22.8" lengthAdjust="spacingAndGlyphs">15000</text>
<line x1="221.6" y1="310.4" x2="224.3" y2="310.4" stroke="#1e1e1e" stroke-width="1.1"/>
<text x="218.4" y="313.3" font-size="8.2" text-anchor="end" font-weight="normal" stroke="#1a1a1a" stroke-width="0.18" textLength="22.8" lengthAdjust="spacingAndGlyphs">12000</text>
<line x1="221.6" y1="319.9" x2="224.3" y2="319.9" stroke="#1e1e1e" stroke-width="1.1"/>
<text x="218.4" y="322.8" font-size="8.2" text-anchor="end" font-weight="normal" stroke="#1a1a1a" stroke-width="0.18" textLength="18.3" lengthAdjust="spacingAndGlyphs">9000</text>
<line x1="221.6" y1="329.4" x2="224.3" y2="329.4" stroke="#1e1e1e" stroke-width="1.1"/>
<text x="218.4" y="332.3" font-size="8.2" text-anchor="end" font-weight="normal" stroke="#1a1a1a" stroke-width="0.18" textLength="18.3" lengthAdjust="spacingAndGlyphs">6000</text>
<line x1="221.6" y1="339.1" x2="224.3" y2="339.1" stroke="#1e1e1e" stroke-width="1.1"/>
<text x="218.4" y="342" font-size="8.2" text-anchor="end" font-weight="normal" stroke="#1a1a1a" stroke-width="0.18" textLength="18.3" lengthAdjust="spacingAndGlyphs">3000</text>
<line x1="221.6" y1="352.8" x2="224.3" y2="352.8" stroke="#1e1e1e" stroke-width="1.1"/>
<text x="218.4" y="355.7" font-size="8.2" text-anchor="end" font-weight="normal" stroke="#1a1a1a" stroke-width="0.18" textLength="13.8" lengthAdjust="spacingAndGlyphs">300</text>
<line x1="221.6" y1="359.8" x2="224.3" y2="359.8" stroke="#1e1e1e" stroke-width="1.1"/>
<text x="218.4" y="362.7" font-size="8.2" text-anchor="end" font-weight="normal" stroke="#1a1a1a" stroke-width="0.18" textLength="13.8" lengthAdjust="spacingAndGlyphs">200</text>
<line x1="221.6" y1="366.7" x2="224.3" y2="366.7" stroke="#1e1e1e" stroke-width="1.1"/>
<text x="218.4" y="369.6" font-size="8.2" text-anchor="end" font-weight="normal" stroke="#1a1a1a" stroke-width="0.18" textLength="13.8" lengthAdjust="spacingAndGlyphs">100</text>
<line x1="221.6" y1="373.3" x2="224.3" y2="373.3" stroke="#1e1e1e" stroke-width="1.1"/>
<text x="218.4" y="376.2" font-size="8.2" text-anchor="end" font-weight="normal" stroke="#1a1a1a" stroke-width="0.18" textLength="4.8" lengthAdjust="spacingAndGlyphs">0</text>
<line x1="223.1" y1="373.3" x2="271" y2="373.3" stroke="#1e1e1e" stroke-width="1.3"/>
<line x1="271" y1="371.6" x2="271" y2="375" stroke="#1e1e1e" stroke-width="1.1"/>
<line x1="224.3" y1="373.3" x2="224.3" y2="376.5" stroke="#1e1e1e" stroke-width="1.1"/>
<line x1="236" y1="373.3" x2="236" y2="376.5" stroke="#1e1e1e" stroke-width="1.1"/>
<line x1="247.6" y1="373.3" x2="247.6" y2="376.5" stroke="#1e1e1e" stroke-width="1.1"/>
<line x1="259.3" y1="373.3" x2="259.3" y2="376.5" stroke="#1e1e1e" stroke-width="1.1"/>
<line x1="280.6" y1="373.3" x2="308.6" y2="373.3" stroke="#1e1e1e" stroke-width="1.3"/>
<line x1="280.6" y1="371.6" x2="280.6" y2="375" stroke="#1e1e1e" stroke-width="1.1"/>
<line x1="308.6" y1="371.6" x2="308.6" y2="375" stroke="#1e1e1e" stroke-width="1.1"/>
<line x1="294.4" y1="373.3" x2="294.4" y2="376.5" stroke="#1e1e1e" stroke-width="1.1"/>
<line x1="314.7" y1="373.3" x2="336.2" y2="373.3" stroke="#1e1e1e" stroke-width="1.3"/>
<line x1="314.7" y1="371.6" x2="314.7" y2="375" stroke="#1e1e1e" stroke-width="1.1"/>
<line x1="333.3" y1="373.3" x2="333.3" y2="376.5" stroke="#1e1e1e" stroke-width="1.1"/>
<text x="224.3" y="386.7" font-size="8.2" text-anchor="middle" font-weight="normal" stroke="#1a1a1a" stroke-width="0.18" textLength="4.8" lengthAdjust="spacingAndGlyphs">0</text>
<text x="236" y="386.7" font-size="8.2" text-anchor="middle" font-weight="normal" stroke="#1a1a1a" stroke-width="0.18" textLength="4.8" lengthAdjust="spacingAndGlyphs">2</text>
<text x="247.6" y="386.7" font-size="8.2" text-anchor="middle" font-weight="normal" stroke="#1a1a1a" stroke-width="0.18" textLength="4.8" lengthAdjust="spacingAndGlyphs">4</text>
<text x="259.3" y="386.7" font-size="8.2" text-anchor="middle" font-weight="normal" stroke="#1a1a1a" stroke-width="0.18" textLength="4.8" lengthAdjust="spacingAndGlyphs">6</text>
<text x="271" y="386.7" font-size="8.2" text-anchor="middle" font-weight="normal" stroke="#1a1a1a" stroke-width="0.18" textLength="4.8" lengthAdjust="spacingAndGlyphs">8</text>
<text x="281" y="386.7" font-size="8.2" text-anchor="middle" font-weight="normal" stroke="#1a1a1a" stroke-width="0.18" textLength="9.3" lengthAdjust="spacingAndGlyphs">24</text>
<text x="294.4" y="386.7" font-size="8.2" text-anchor="middle" font-weight="normal" stroke="#1a1a1a" stroke-width="0.18" textLength="9.3" lengthAdjust="spacingAndGlyphs">48</text>
<text x="308.3" y="386.7" font-size="8.2" text-anchor="middle" font-weight="normal" stroke="#1a1a1a" stroke-width="0.18" textLength="9.3" lengthAdjust="spacingAndGlyphs">72</text>
<text x="333.3" y="386.7" font-size="8.2" text-anchor="middle" font-weight="normal" stroke="#1a1a1a" stroke-width="0.18" textLength="13.8" lengthAdjust="spacingAndGlyphs">168</text>
<text x="280.9" y="400.7" font-size="10" text-anchor="middle" font-weight="normal" stroke="#1a1a1a" stroke-width="0.45" textLength="30.8" lengthAdjust="spacingAndGlyphs">Time (hrs)</text>
<text transform="translate(189.7,335.7) rotate(-90)" x="0" y="0" stroke="#1a1a1a" stroke-width="0.5" font-size="10" text-anchor="middle" textLength="62.4" lengthAdjust="spacingAndGlyphs">FIXa-AT (% from T0)</text>
<line x1="247.6" y1="353" x2="247.6" y2="358.5" stroke="#3c3c3c" stroke-width="1.25"/>
<line x1="245.8" y1="353" x2="249.4" y2="353" stroke="#3c3c3c" stroke-width="1.1"/>
<line x1="245.8" y1="358.5" x2="249.4" y2="358.5" stroke="#3c3c3c" stroke-width="1.1"/>
<line x1="259.3" y1="353.7" x2="259.3" y2="361" stroke="#3c3c3c" stroke-width="1.25"/>
<line x1="257.5" y1="353.7" x2="261.1" y2="353.7" stroke="#3c3c3c" stroke-width="1.1"/>
<line x1="257.5" y1="361" x2="261.1" y2="361" stroke="#3c3c3c" stroke-width="1.1"/>
<line x1="271" y1="355" x2="271" y2="362" stroke="#3c3c3c" stroke-width="1.25"/>
<line x1="269.2" y1="355" x2="272.8" y2="355" stroke="#3c3c3c" stroke-width="1.1"/>
<line x1="269.2" y1="362" x2="272.8" y2="362" stroke="#3c3c3c" stroke-width="1.1"/>
<polyline points="224.3,366.7 236,361.1 247.6,355.7 259.3,357.1 271,358.6 280.6,366.9 294.4,368.7 308.3,368 333.3,367.5" fill="none" stroke="#2a4f8f" stroke-width="1.35" stroke-linejoin="round"/>
<circle cx="224.3" cy="366.7" r="1.45" fill="#fff" stroke="#2a4f8f" stroke-width="1"/>
<circle cx="236" cy="361.1" r="1.45" fill="#fff" stroke="#2a4f8f" stroke-width="1"/>
<circle cx="247.6" cy="355.7" r="1.45" fill="#fff" stroke="#2a4f8f" stroke-width="1"/>
<circle cx="259.3" cy="357.1" r="1.45" fill="#fff" stroke="#2a4f8f" stroke-width="1"/>
<circle cx="271" cy="358.6" r="1.45" fill="#fff" stroke="#2a4f8f" stroke-width="1"/>
<circle cx="280.6" cy="366.9" r="1.45" fill="#fff" stroke="#2a4f8f" stroke-width="1"/>
<circle cx="294.4" cy="368.7" r="1.45" fill="#fff" stroke="#2a4f8f" stroke-width="1"/>
<circle cx="308.3" cy="368" r="1.45" fill="#fff" stroke="#2a4f8f" stroke-width="1"/>
<circle cx="333.3" cy="367.5" r="1.45" fill="#fff" stroke="#2a4f8f" stroke-width="1"/>
<line x1="236" y1="336.3" x2="236" y2="340.7" stroke="#3c3c3c" stroke-width="1.25"/>
<line x1="234.2" y1="336.3" x2="237.8" y2="336.3" stroke="#3c3c3c" stroke-width="1.1"/>
<line x1="234.2" y1="340.7" x2="237.8" y2="340.7" stroke="#3c3c3c" stroke-width="1.1"/>
<line x1="247.6" y1="313.8" x2="247.6" y2="335.5" stroke="#3c3c3c" stroke-width="1.25"/>
<line x1="245.8" y1="313.8" x2="249.4" y2="313.8" stroke="#3c3c3c" stroke-width="1.1"/>
<line x1="245.8" y1="335.5" x2="249.4" y2="335.5" stroke="#3c3c3c" stroke-width="1.1"/>
<line x1="259.3" y1="319.5" x2="259.3" y2="337.2" stroke="#3c3c3c" stroke-width="1.25"/>
<line x1="257.5" y1="319.5" x2="261.1" y2="319.5" stroke="#3c3c3c" stroke-width="1.1"/>
<line x1="257.5" y1="337.2" x2="261.1" y2="337.2" stroke="#3c3c3c" stroke-width="1.1"/>
<line x1="280.6" y1="332.7" x2="280.6" y2="342.8" stroke="#3c3c3c" stroke-width="1.25"/>
<line x1="278.8" y1="332.7" x2="282.4" y2="332.7" stroke="#3c3c3c" stroke-width="1.1"/>
<line x1="278.8" y1="342.8" x2="282.4" y2="342.8" stroke="#3c3c3c" stroke-width="1.1"/>
<polyline points="224.3,366.7 236,338.7 247.6,324.5 259.3,328.4 271,340 280.6,337.4" fill="none" stroke="#b5082f" stroke-width="1.35" stroke-linejoin="round"/>
<circle cx="224.3" cy="366.7" r="2.0" fill="#b5082f"/>
<circle cx="236" cy="338.7" r="2.0" fill="#b5082f"/>
<circle cx="247.6" cy="324.5" r="2.0" fill="#b5082f"/>
<circle cx="259.3" cy="328.4" r="2.0" fill="#b5082f"/>
<circle cx="271" cy="340" r="2.0" fill="#b5082f"/>
<circle cx="280.6" cy="337.4" r="2.0" fill="#b5082f"/>
<rect x="235.75" y="356.05" width="1.5" height="1.5" fill="#111"/>
<rect x="244.15" y="348.65" width="1.5" height="1.5" fill="#111"/>
<rect x="247.05" y="348.65" width="1.5" height="1.5" fill="#111"/>
<rect x="249.95" y="348.65" width="1.5" height="1.5" fill="#111"/>
<rect x="255.75" y="349.05" width="1.5" height="1.5" fill="#111"/>
<rect x="258.65" y="349.05" width="1.5" height="1.5" fill="#111"/>
<rect x="261.55" y="349.05" width="1.5" height="1.5" fill="#111"/>
<rect x="279.95" y="360.95" width="1.5" height="1.5" fill="#111"/>
<text x="355.6" y="290.7" font-size="12" text-anchor="start" font-weight="bold" stroke="#1a1a1a" stroke-width="0.28">I</text>
<line x1="397" y1="298.1" x2="397" y2="347.3" stroke="#1e1e1e" stroke-width="1.3"/>
<line x1="394.2" y1="347.3" x2="399.8" y2="347.3" stroke="#1e1e1e" stroke-width="1.2"/>
<line x1="397" y1="353" x2="397" y2="373.3" stroke="#1e1e1e" stroke-width="1.3"/>
<line x1="394.2" y1="353" x2="399.8" y2="353" stroke="#1e1e1e" stroke-width="1.2"/>
<line x1="394.3" y1="300.7" x2="397" y2="300.7" stroke="#1e1e1e" stroke-width="1.1"/>
<text x="391.1" y="303.6" font-size="8.2" text-anchor="end" font-weight="normal" stroke="#1a1a1a" stroke-width="0.18" textLength="18.3" lengthAdjust="spacingAndGlyphs">1500</text>
<line x1="394.3" y1="312.5" x2="397" y2="312.5" stroke="#1e1e1e" stroke-width="1.1"/>
<text x="391.1" y="315.4" font-size="8.2" text-anchor="end" font-weight="normal" stroke="#1a1a1a" stroke-width="0.18" textLength="18.3" lengthAdjust="spacingAndGlyphs">2000</text>
<line x1="394.3" y1="324.1" x2="397" y2="324.1" stroke="#1e1e1e" stroke-width="1.1"/>
<text x="391.1" y="327" font-size="8.2" text-anchor="end" font-weight="normal" stroke="#1a1a1a" stroke-width="0.18" textLength="18.3" lengthAdjust="spacingAndGlyphs">1500</text>
<line x1="394.3" y1="335.5" x2="397" y2="335.5" stroke="#1e1e1e" stroke-width="1.1"/>
<text x="391.1" y="338.4" font-size="8.2" text-anchor="end" font-weight="normal" stroke="#1a1a1a" stroke-width="0.18" textLength="18.3" lengthAdjust="spacingAndGlyphs">1000</text>
<line x1="394.3" y1="347" x2="397" y2="347" stroke="#1e1e1e" stroke-width="1.1"/>
<text x="391.1" y="349.9" font-size="8.2" text-anchor="end" font-weight="normal" stroke="#1a1a1a" stroke-width="0.18" textLength="13.8" lengthAdjust="spacingAndGlyphs">500</text>
<line x1="394.3" y1="353" x2="397" y2="353" stroke="#1e1e1e" stroke-width="1.1"/>
<text x="391.1" y="355.9" font-size="8.2" text-anchor="end" font-weight="normal" stroke="#1a1a1a" stroke-width="0.18" textLength="13.8" lengthAdjust="spacingAndGlyphs">300</text>
<line x1="394.3" y1="359.9" x2="397" y2="359.9" stroke="#1e1e1e" stroke-width="1.1"/>
<text x="391.1" y="362.8" font-size="8.2" text-anchor="end" font-weight="normal" stroke="#1a1a1a" stroke-width="0.18" textLength="13.8" lengthAdjust="spacingAndGlyphs">200</text>
<line x1="394.3" y1="366.9" x2="397" y2="366.9" stroke="#1e1e1e" stroke-width="1.1"/>
<text x="391.1" y="369.8" font-size="8.2" text-anchor="end" font-weight="normal" stroke="#1a1a1a" stroke-width="0.18" textLength="13.8" lengthAdjust="spacingAndGlyphs">100</text>
<line x1="394.3" y1="373.3" x2="397" y2="373.3" stroke="#1e1e1e" stroke-width="1.1"/>
<text x="391.1" y="376.2" font-size="8.2" text-anchor="end" font-weight="normal" stroke="#1a1a1a" stroke-width="0.18" textLength="4.8" lengthAdjust="spacingAndGlyphs">0</text>
<line x1="395.8" y1="373.3" x2="443.7" y2="373.3" stroke="#1e1e1e" stroke-width="1.3"/>
<line x1="443.7" y1="371.6" x2="443.7" y2="375" stroke="#1e1e1e" stroke-width="1.1"/>
<line x1="397" y1="373.3" x2="397" y2="376.5" stroke="#1e1e1e" stroke-width="1.1"/>
<line x1="408.7" y1="373.3" x2="408.7" y2="376.5" stroke="#1e1e1e" stroke-width="1.1"/>
<line x1="420.3" y1="373.3" x2="420.3" y2="376.5" stroke="#1e1e1e" stroke-width="1.1"/>
<line x1="432" y1="373.3" x2="432" y2="376.5" stroke="#1e1e1e" stroke-width="1.1"/>
<line x1="453.3" y1="373.3" x2="481.3" y2="373.3" stroke="#1e1e1e" stroke-width="1.3"/>
<line x1="453.3" y1="371.6" x2="453.3" y2="375" stroke="#1e1e1e" stroke-width="1.1"/>
<line x1="481.3" y1="371.6" x2="481.3" y2="375" stroke="#1e1e1e" stroke-width="1.1"/>
<line x1="467.1" y1="373.3" x2="467.1" y2="376.5" stroke="#1e1e1e" stroke-width="1.1"/>
<line x1="487.4" y1="373.3" x2="508.9" y2="373.3" stroke="#1e1e1e" stroke-width="1.3"/>
<line x1="487.4" y1="371.6" x2="487.4" y2="375" stroke="#1e1e1e" stroke-width="1.1"/>
<line x1="506" y1="373.3" x2="506" y2="376.5" stroke="#1e1e1e" stroke-width="1.1"/>
<text x="397" y="386.7" font-size="8.2" text-anchor="middle" font-weight="normal" stroke="#1a1a1a" stroke-width="0.18" textLength="4.8" lengthAdjust="spacingAndGlyphs">0</text>
<text x="408.7" y="386.7" font-size="8.2" text-anchor="middle" font-weight="normal" stroke="#1a1a1a" stroke-width="0.18" textLength="4.8" lengthAdjust="spacingAndGlyphs">2</text>
<text x="420.3" y="386.7" font-size="8.2" text-anchor="middle" font-weight="normal" stroke="#1a1a1a" stroke-width="0.18" textLength="4.8" lengthAdjust="spacingAndGlyphs">4</text>
<text x="432" y="386.7" font-size="8.2" text-anchor="middle" font-weight="normal" stroke="#1a1a1a" stroke-width="0.18" textLength="4.8" lengthAdjust="spacingAndGlyphs">6</text>
<text x="443.7" y="386.7" font-size="8.2" text-anchor="middle" font-weight="normal" stroke="#1a1a1a" stroke-width="0.18" textLength="4.8" lengthAdjust="spacingAndGlyphs">8</text>
<text x="453.7" y="386.7" font-size="8.2" text-anchor="middle" font-weight="normal" stroke="#1a1a1a" stroke-width="0.18" textLength="9.3" lengthAdjust="spacingAndGlyphs">24</text>
<text x="467.1" y="386.7" font-size="8.2" text-anchor="middle" font-weight="normal" stroke="#1a1a1a" stroke-width="0.18" textLength="9.3" lengthAdjust="spacingAndGlyphs">48</text>
<text x="481" y="386.7" font-size="8.2" text-anchor="middle" font-weight="normal" stroke="#1a1a1a" stroke-width="0.18" textLength="9.3" lengthAdjust="spacingAndGlyphs">72</text>
<text x="506" y="386.7" font-size="8.2" text-anchor="middle" font-weight="normal" stroke="#1a1a1a" stroke-width="0.18" textLength="13.8" lengthAdjust="spacingAndGlyphs">168</text>
<text x="453.6" y="400.7" font-size="10" text-anchor="middle" font-weight="normal" stroke="#1a1a1a" stroke-width="0.45" textLength="30.8" lengthAdjust="spacingAndGlyphs">Time (hrs)</text>
<text transform="translate(366.5,335.6) rotate(-90)" x="0" y="0" stroke="#1a1a1a" stroke-width="0.5" font-size="10" text-anchor="middle" textLength="64.8" lengthAdjust="spacingAndGlyphs">FVIIa-AT (% from T0)</text>
<polyline points="397,366.9 408.7,361.1 420.3,360.4 432,361.6 443.7,362.8 453.3,370 467.1,371 481,370.5 506,369.1" fill="none" stroke="#2a4f8f" stroke-width="1.35" stroke-linejoin="round"/>
<circle cx="397" cy="366.9" r="1.45" fill="#fff" stroke="#2a4f8f" stroke-width="1"/>
<circle cx="408.7" cy="361.1" r="1.45" fill="#fff" stroke="#2a4f8f" stroke-width="1"/>
<rect x="418.8" y="358.9" width="3" height="3" fill="#fff" stroke="#2a4f8f" stroke-width="1"/>
<rect x="430.5" y="360.1" width="3" height="3" fill="#fff" stroke="#2a4f8f" stroke-width="1"/>
<rect x="442.2" y="361.3" width="3" height="3" fill="#fff" stroke="#2a4f8f" stroke-width="1"/>
<circle cx="453.3" cy="370" r="1.45" fill="#fff" stroke="#2a4f8f" stroke-width="1"/>
<circle cx="467.1" cy="371" r="1.45" fill="#fff" stroke="#2a4f8f" stroke-width="1"/>
<circle cx="481" cy="370.5" r="1.45" fill="#fff" stroke="#2a4f8f" stroke-width="1"/>
<circle cx="506" cy="369.1" r="1.45" fill="#fff" stroke="#2a4f8f" stroke-width="1"/>
<line x1="408.7" y1="316.3" x2="408.7" y2="336.7" stroke="#3c3c3c" stroke-width="1.25"/>
<line x1="406.9" y1="316.3" x2="410.5" y2="316.3" stroke="#3c3c3c" stroke-width="1.1"/>
<line x1="406.9" y1="336.7" x2="410.5" y2="336.7" stroke="#3c3c3c" stroke-width="1.1"/>
<line x1="420.3" y1="321.5" x2="420.3" y2="342.2" stroke="#3c3c3c" stroke-width="1.25"/>
<line x1="418.5" y1="321.5" x2="422.1" y2="321.5" stroke="#3c3c3c" stroke-width="1.1"/>
<line x1="418.5" y1="342.2" x2="422.1" y2="342.2" stroke="#3c3c3c" stroke-width="1.1"/>
<line x1="432" y1="326.2" x2="432" y2="343.6" stroke="#3c3c3c" stroke-width="1.25"/>
<line x1="430.2" y1="326.2" x2="433.8" y2="326.2" stroke="#3c3c3c" stroke-width="1.1"/>
<line x1="430.2" y1="343.6" x2="433.8" y2="343.6" stroke="#3c3c3c" stroke-width="1.1"/>
<line x1="443.7" y1="333.3" x2="443.7" y2="346.2" stroke="#3c3c3c" stroke-width="1.25"/>
<line x1="441.9" y1="333.3" x2="445.5" y2="333.3" stroke="#3c3c3c" stroke-width="1.1"/>
<line x1="441.9" y1="346.2" x2="445.5" y2="346.2" stroke="#3c3c3c" stroke-width="1.1"/>
<line x1="453.3" y1="304.6" x2="453.3" y2="342.3" stroke="#3c3c3c" stroke-width="1.25"/>
<line x1="451.5" y1="304.6" x2="455.1" y2="304.6" stroke="#3c3c3c" stroke-width="1.1"/>
<line x1="451.5" y1="342.3" x2="455.1" y2="342.3" stroke="#3c3c3c" stroke-width="1.1"/>
<polyline points="397,366.9 408.7,326.7 420.3,331.8 432,335 443.7,339.7 453.3,323.4" fill="none" stroke="#b5082f" stroke-width="1.35" stroke-linejoin="round"/>
<circle cx="397" cy="366.9" r="2.0" fill="#b5082f"/>
<circle cx="408.7" cy="326.7" r="2.0" fill="#b5082f"/>
<circle cx="420.3" cy="331.8" r="2.0" fill="#b5082f"/>
<circle cx="432" cy="335" r="2.0" fill="#b5082f"/>
<circle cx="443.7" cy="339.7" r="2.0" fill="#b5082f"/>
<circle cx="453.3" cy="323.4" r="2.0" fill="#b5082f"/>
<rect x="404.95" y="355.25" width="1.5" height="1.5" fill="#111"/>
<rect x="407.85" y="355.25" width="1.5" height="1.5" fill="#111"/>
<rect x="410.75" y="355.25" width="1.5" height="1.5" fill="#111"/>
<rect x="418" y="354.25" width="1.5" height="1.5" fill="#111"/>
<rect x="420.9" y="354.25" width="1.5" height="1.5" fill="#111"/>
<rect x="429.8" y="355.55" width="1.5" height="1.5" fill="#111"/>
<rect x="432.7" y="355.55" width="1.5" height="1.5" fill="#111"/>
<rect x="441.2" y="357.15" width="1.5" height="1.5" fill="#111"/>
<rect x="444.1" y="357.15" width="1.5" height="1.5" fill="#111"/>
<rect x="449.35" y="362.55" width="1.5" height="1.5" fill="#111"/>
<rect x="452.25" y="362.55" width="1.5" height="1.5" fill="#111"/>
<rect x="455.15" y="362.55" width="1.5" height="1.5" fill="#111"/>
<text x="9.5" y="428" font-size="12" text-anchor="start" font-weight="bold" stroke="#1a1a1a" stroke-width="0.28">J</text>
<line x1="51.4" y1="436.1" x2="51.4" y2="484.6" stroke="#1e1e1e" stroke-width="1.3"/>
<line x1="48.6" y1="484.6" x2="54.2" y2="484.6" stroke="#1e1e1e" stroke-width="1.2"/>
<line x1="51.4" y1="489.5" x2="51.4" y2="510.7" stroke="#1e1e1e" stroke-width="1.3"/>
<line x1="48.6" y1="489.5" x2="54.2" y2="489.5" stroke="#1e1e1e" stroke-width="1.2"/>
<line x1="48.7" y1="438.7" x2="51.4" y2="438.7" stroke="#1e1e1e" stroke-width="1.1"/>
<text x="45.5" y="441.6" font-size="8.2" text-anchor="end" font-weight="normal" stroke="#1a1a1a" stroke-width="0.18" textLength="18.3" lengthAdjust="spacingAndGlyphs">6000</text>
<line x1="48.7" y1="446.9" x2="51.4" y2="446.9" stroke="#1e1e1e" stroke-width="1.1"/>
<text x="45.5" y="449.8" font-size="8.2" text-anchor="end" font-weight="normal" stroke="#1a1a1a" stroke-width="0.18" textLength="18.3" lengthAdjust="spacingAndGlyphs">5000</text>
<line x1="48.7" y1="455.2" x2="51.4" y2="455.2" stroke="#1e1e1e" stroke-width="1.1"/>
<text x="45.5" y="458.1" font-size="8.2" text-anchor="end" font-weight="normal" stroke="#1a1a1a" stroke-width="0.18" textLength="18.3" lengthAdjust="spacingAndGlyphs">4000</text>
<line x1="48.7" y1="463.8" x2="51.4" y2="463.8" stroke="#1e1e1e" stroke-width="1.1"/>
<text x="45.5" y="466.7" font-size="8.2" text-anchor="end" font-weight="normal" stroke="#1a1a1a" stroke-width="0.18" textLength="18.3" lengthAdjust="spacingAndGlyphs">3000</text>
<line x1="48.7" y1="472.1" x2="51.4" y2="472.1" stroke="#1e1e1e" stroke-width="1.1"/>
<text x="45.5" y="475" font-size="8.2" text-anchor="end" font-weight="normal" stroke="#1a1a1a" stroke-width="0.18" textLength="18.3" lengthAdjust="spacingAndGlyphs">2000</text>
<line x1="48.7" y1="480.6" x2="51.4" y2="480.6" stroke="#1e1e1e" stroke-width="1.1"/>
<text x="45.5" y="483.5" font-size="8.2" text-anchor="end" font-weight="normal" stroke="#1a1a1a" stroke-width="0.18" textLength="18.3" lengthAdjust="spacingAndGlyphs">1000</text>
<line x1="48.7" y1="491.2" x2="51.4" y2="491.2" stroke="#1e1e1e" stroke-width="1.1"/>
<text x="45.5" y="494.1" font-size="8.2" text-anchor="end" font-weight="normal" stroke="#1a1a1a" stroke-width="0.18" textLength="13.8" lengthAdjust="spacingAndGlyphs">500</text>
<line x1="48.7" y1="500.7" x2="51.4" y2="500.7" stroke="#1e1e1e" stroke-width="1.1"/>
<text x="45.5" y="503.6" font-size="8.2" text-anchor="end" font-weight="normal" stroke="#1a1a1a" stroke-width="0.18" textLength="13.8" lengthAdjust="spacingAndGlyphs">250</text>
<line x1="48.7" y1="510.7" x2="51.4" y2="510.7" stroke="#1e1e1e" stroke-width="1.1"/>
<text x="45.5" y="513.6" font-size="8.2" text-anchor="end" font-weight="normal" stroke="#1a1a1a" stroke-width="0.18" textLength="4.8" lengthAdjust="spacingAndGlyphs">0</text>
<line x1="50.2" y1="510.7" x2="98.1" y2="510.7" stroke="#1e1e1e" stroke-width="1.3"/>
<line x1="98.1" y1="509" x2="98.1" y2="512.4" stroke="#1e1e1e" stroke-width="1.1"/>
<line x1="51.4" y1="510.7" x2="51.4" y2="513.9" stroke="#1e1e1e" stroke-width="1.1"/>
<line x1="63.1" y1="510.7" x2="63.1" y2="513.9" stroke="#1e1e1e" stroke-width="1.1"/>
<line x1="74.7" y1="510.7" x2="74.7" y2="513.9" stroke="#1e1e1e" stroke-width="1.1"/>
<line x1="86.4" y1="510.7" x2="86.4" y2="513.9" stroke="#1e1e1e" stroke-width="1.1"/>
<line x1="107.7" y1="510.7" x2="135.7" y2="510.7" stroke="#1e1e1e" stroke-width="1.3"/>
<line x1="107.7" y1="509" x2="107.7" y2="512.4" stroke="#1e1e1e" stroke-width="1.1"/>
<line x1="135.7" y1="509" x2="135.7" y2="512.4" stroke="#1e1e1e" stroke-width="1.1"/>
<line x1="121.5" y1="510.7" x2="121.5" y2="513.9" stroke="#1e1e1e" stroke-width="1.1"/>
<line x1="141.8" y1="510.7" x2="163.3" y2="510.7" stroke="#1e1e1e" stroke-width="1.3"/>
<line x1="141.8" y1="509" x2="141.8" y2="512.4" stroke="#1e1e1e" stroke-width="1.1"/>
<line x1="160.4" y1="510.7" x2="160.4" y2="513.9" stroke="#1e1e1e" stroke-width="1.1"/>
<text x="51.4" y="524.1" font-size="8.2" text-anchor="middle" font-weight="normal" stroke="#1a1a1a" stroke-width="0.18" textLength="4.8" lengthAdjust="spacingAndGlyphs">0</text>
<text x="63.1" y="524.1" font-size="8.2" text-anchor="middle" font-weight="normal" stroke="#1a1a1a" stroke-width="0.18" textLength="4.8" lengthAdjust="spacingAndGlyphs">2</text>
<text x="74.7" y="524.1" font-size="8.2" text-anchor="middle" font-weight="normal" stroke="#1a1a1a" stroke-width="0.18" textLength="4.8" lengthAdjust="spacingAndGlyphs">4</text>
<text x="86.4" y="524.1" font-size="8.2" text-anchor="middle" font-weight="normal" stroke="#1a1a1a" stroke-width="0.18" textLength="4.8" lengthAdjust="spacingAndGlyphs">6</text>
<text x="98.1" y="524.1" font-size="8.2" text-anchor="middle" font-weight="normal" stroke="#1a1a1a" stroke-width="0.18" textLength="4.8" lengthAdjust="spacingAndGlyphs">8</text>
<text x="108.1" y="524.1" font-size="8.2" text-anchor="middle" font-weight="normal" stroke="#1a1a1a" stroke-width="0.18" textLength="9.3" lengthAdjust="spacingAndGlyphs">24</text>
<text x="121.5" y="524.1" font-size="8.2" text-anchor="middle" font-weight="normal" stroke="#1a1a1a" stroke-width="0.18" textLength="9.3" lengthAdjust="spacingAndGlyphs">48</text>
<text x="135.4" y="524.1" font-size="8.2" text-anchor="middle" font-weight="normal" stroke="#1a1a1a" stroke-width="0.18" textLength="9.3" lengthAdjust="spacingAndGlyphs">72</text>
<text x="160.4" y="524.1" font-size="8.2" text-anchor="middle" font-weight="normal" stroke="#1a1a1a" stroke-width="0.18" textLength="13.8" lengthAdjust="spacingAndGlyphs">168</text>
<text x="108" y="538.1" font-size="10" text-anchor="middle" font-weight="normal" stroke="#1a1a1a" stroke-width="0.45" textLength="30.8" lengthAdjust="spacingAndGlyphs">Time (hrs)</text>
<text transform="translate(21.7,473) rotate(-90)" x="0" y="0" stroke="#1a1a1a" stroke-width="0.5" font-size="10" text-anchor="middle" textLength="61.6" lengthAdjust="spacingAndGlyphs">FXa-AT (% from T0)</text>
<line x1="74.7" y1="484.6" x2="74.7" y2="494" stroke="#3c3c3c" stroke-width="1.25"/>
<line x1="72.9" y1="484.6" x2="76.5" y2="484.6" stroke="#3c3c3c" stroke-width="1.1"/>
<line x1="72.9" y1="494" x2="76.5" y2="494" stroke="#3c3c3c" stroke-width="1.1"/>
<line x1="86.4" y1="493.2" x2="86.4" y2="497" stroke="#3c3c3c" stroke-width="1.25"/>
<line x1="84.6" y1="493.2" x2="88.2" y2="493.2" stroke="#3c3c3c" stroke-width="1.1"/>
<line x1="84.6" y1="497" x2="88.2" y2="497" stroke="#3c3c3c" stroke-width="1.1"/>
<line x1="98.1" y1="493.8" x2="98.1" y2="498.4" stroke="#3c3c3c" stroke-width="1.25"/>
<line x1="96.3" y1="493.8" x2="99.9" y2="493.8" stroke="#3c3c3c" stroke-width="1.1"/>
<line x1="96.3" y1="498.4" x2="99.9" y2="498.4" stroke="#3c3c3c" stroke-width="1.1"/>
<polyline points="51.4,507.1 63.1,499.8 74.7,491.6 86.4,494.7 98.1,496.4 107.7,507.1 121.5,509.4 135.4,509.6 160.4,508.4" fill="none" stroke="#2a4f8f" stroke-width="1.35" stroke-linejoin="round"/>
<circle cx="51.4" cy="507.1" r="1.45" fill="#fff" stroke="#2a4f8f" stroke-width="1"/>
<rect x="61.6" y="498.3" width="3" height="3" fill="#fff" stroke="#2a4f8f" stroke-width="1"/>
<rect x="73.2" y="490.1" width="3" height="3" fill="#fff" stroke="#2a4f8f" stroke-width="1"/>
<rect x="84.9" y="493.2" width="3" height="3" fill="#fff" stroke="#2a4f8f" stroke-width="1"/>
<rect x="96.6" y="494.9" width="3" height="3" fill="#fff" stroke="#2a4f8f" stroke-width="1"/>
<circle cx="107.7" cy="507.1" r="1.45" fill="#fff" stroke="#2a4f8f" stroke-width="1"/>
<circle cx="121.5" cy="509.4" r="1.45" fill="#fff" stroke="#2a4f8f" stroke-width="1"/>
<circle cx="135.4" cy="509.6" r="1.45" fill="#fff" stroke="#2a4f8f" stroke-width="1"/>
<circle cx="160.4" cy="508.4" r="1.45" fill="#fff" stroke="#2a4f8f" stroke-width="1"/>
<line x1="63.1" y1="453.4" x2="63.1" y2="456.4" stroke="#3c3c3c" stroke-width="1.25"/>
<line x1="61.3" y1="453.4" x2="64.9" y2="453.4" stroke="#3c3c3c" stroke-width="1.1"/>
<line x1="61.3" y1="456.4" x2="64.9" y2="456.4" stroke="#3c3c3c" stroke-width="1.1"/>
<line x1="74.7" y1="444.7" x2="74.7" y2="451.7" stroke="#3c3c3c" stroke-width="1.25"/>
<line x1="72.9" y1="444.7" x2="76.5" y2="444.7" stroke="#3c3c3c" stroke-width="1.1"/>
<line x1="72.9" y1="451.7" x2="76.5" y2="451.7" stroke="#3c3c3c" stroke-width="1.1"/>
<line x1="86.4" y1="453" x2="86.4" y2="456" stroke="#3c3c3c" stroke-width="1.25"/>
<line x1="84.6" y1="453" x2="88.2" y2="453" stroke="#3c3c3c" stroke-width="1.1"/>
<line x1="84.6" y1="456" x2="88.2" y2="456" stroke="#3c3c3c" stroke-width="1.1"/>
<line x1="98.1" y1="449.9" x2="98.1" y2="454.5" stroke="#3c3c3c" stroke-width="1.25"/>
<line x1="96.3" y1="449.9" x2="99.9" y2="449.9" stroke="#3c3c3c" stroke-width="1.1"/>
<line x1="96.3" y1="454.5" x2="99.9" y2="454.5" stroke="#3c3c3c" stroke-width="1.1"/>
<line x1="107.7" y1="441.6" x2="107.7" y2="464.9" stroke="#3c3c3c" stroke-width="1.25"/>
<line x1="105.9" y1="441.6" x2="109.5" y2="441.6" stroke="#3c3c3c" stroke-width="1.1"/>
<line x1="105.9" y1="464.9" x2="109.5" y2="464.9" stroke="#3c3c3c" stroke-width="1.1"/>
<polyline points="51.4,507.1 63.1,454.9 74.7,448.4 86.4,454.6 98.1,452.2 107.7,453.3" fill="none" stroke="#b5082f" stroke-width="1.35" stroke-linejoin="round"/>
<circle cx="51.4" cy="507.1" r="2.0" fill="#b5082f"/>
<circle cx="63.1" cy="454.9" r="2.0" fill="#b5082f"/>
<circle cx="74.7" cy="448.4" r="2.0" fill="#b5082f"/>
<circle cx="86.4" cy="454.6" r="2.0" fill="#b5082f"/>
<circle cx="98.1" cy="452.2" r="2.0" fill="#b5082f"/>
<circle cx="107.7" cy="453.3" r="2.0" fill="#b5082f"/>
<rect x="59.85" y="493.05" width="1.5" height="1.5" fill="#111"/>
<rect x="62.75" y="493.05" width="1.5" height="1.5" fill="#111"/>
<rect x="65.65" y="493.05" width="1.5" height="1.5" fill="#111"/>
<rect x="71.45" y="479.65" width="1.5" height="1.5" fill="#111"/>
<rect x="74.35" y="479.65" width="1.5" height="1.5" fill="#111"/>
<rect x="77.25" y="479.65" width="1.5" height="1.5" fill="#111"/>
<rect x="83.05" y="487.95" width="1.5" height="1.5" fill="#111"/>
<rect x="85.95" y="487.95" width="1.5" height="1.5" fill="#111"/>
<rect x="88.85" y="487.95" width="1.5" height="1.5" fill="#111"/>
<rect x="94.35" y="489.05" width="1.5" height="1.5" fill="#111"/>
<rect x="97.25" y="489.05" width="1.5" height="1.5" fill="#111"/>
<rect x="100.15" y="489.05" width="1.5" height="1.5" fill="#111"/>
<rect x="104.15" y="501.45" width="1.5" height="1.5" fill="#111"/>
<rect x="107.05" y="501.45" width="1.5" height="1.5" fill="#111"/>
<rect x="109.95" y="501.45" width="1.5" height="1.5" fill="#111"/>
<text x="180.8" y="428.2" font-size="12" text-anchor="start" font-weight="bold" stroke="#1a1a1a" stroke-width="0.28">K</text>
<line x1="224.3" y1="436.1" x2="224.3" y2="484.8" stroke="#1e1e1e" stroke-width="1.3"/>
<line x1="221.5" y1="484.8" x2="227.1" y2="484.8" stroke="#1e1e1e" stroke-width="1.2"/>
<line x1="224.3" y1="489.5" x2="224.3" y2="510.6" stroke="#1e1e1e" stroke-width="1.3"/>
<line x1="221.5" y1="489.5" x2="227.1" y2="489.5" stroke="#1e1e1e" stroke-width="1.2"/>
<line x1="221.6" y1="438.7" x2="224.3" y2="438.7" stroke="#1e1e1e" stroke-width="1.1"/>
<text x="218.4" y="441.6" font-size="8.2" text-anchor="end" font-weight="normal" stroke="#1a1a1a" stroke-width="0.18" textLength="18.3" lengthAdjust="spacingAndGlyphs">3000</text>
<line x1="221.6" y1="447.4" x2="224.3" y2="447.4" stroke="#1e1e1e" stroke-width="1.1"/>
<text x="218.4" y="450.3" font-size="8.2" text-anchor="end" font-weight="normal" stroke="#1a1a1a" stroke-width="0.18" textLength="18.3" lengthAdjust="spacingAndGlyphs">2500</text>
<line x1="221.6" y1="455.9" x2="224.3" y2="455.9" stroke="#1e1e1e" stroke-width="1.1"/>
<text x="218.4" y="458.8" font-size="8.2" text-anchor="end" font-weight="normal" stroke="#1a1a1a" stroke-width="0.18" textLength="18.3" lengthAdjust="spacingAndGlyphs">2000</text>
<line x1="221.6" y1="464.5" x2="224.3" y2="464.5" stroke="#1e1e1e" stroke-width="1.1"/>
<text x="218.4" y="467.4" font-size="8.2" text-anchor="end" font-weight="normal" stroke="#1a1a1a" stroke-width="0.18" textLength="18.3" lengthAdjust="spacingAndGlyphs">1500</text>
<line x1="221.6" y1="472.8" x2="224.3" y2="472.8" stroke="#1e1e1e" stroke-width="1.1"/>
<text x="218.4" y="475.7" font-size="8.2" text-anchor="end" font-weight="normal" stroke="#1a1a1a" stroke-width="0.18" textLength="18.3" lengthAdjust="spacingAndGlyphs">1000</text>
<line x1="221.6" y1="481.4" x2="224.3" y2="481.4" stroke="#1e1e1e" stroke-width="1.1"/>
<text x="218.4" y="484.3" font-size="8.2" text-anchor="end" font-weight="normal" stroke="#1a1a1a" stroke-width="0.18" textLength="13.8" lengthAdjust="spacingAndGlyphs">500</text>
<line x1="221.6" y1="490.9" x2="224.3" y2="490.9" stroke="#1e1e1e" stroke-width="1.1"/>
<text x="218.4" y="493.8" font-size="8.2" text-anchor="end" font-weight="normal" stroke="#1a1a1a" stroke-width="0.18" textLength="13.8" lengthAdjust="spacingAndGlyphs">200</text>
<line x1="221.6" y1="501.1" x2="224.3" y2="501.1" stroke="#1e1e1e" stroke-width="1.1"/>
<text x="218.4" y="504" font-size="8.2" text-anchor="end" font-weight="normal" stroke="#1a1a1a" stroke-width="0.18" textLength="13.8" lengthAdjust="spacingAndGlyphs">100</text>
<line x1="221.6" y1="510.6" x2="224.3" y2="510.6" stroke="#1e1e1e" stroke-width="1.1"/>
<text x="218.4" y="513.5" font-size="8.2" text-anchor="end" font-weight="normal" stroke="#1a1a1a" stroke-width="0.18" textLength="4.8" lengthAdjust="spacingAndGlyphs">0</text>
<line x1="223.1" y1="510.6" x2="271" y2="510.6" stroke="#1e1e1e" stroke-width="1.3"/>
<line x1="271" y1="508.9" x2="271" y2="512.3" stroke="#1e1e1e" stroke-width="1.1"/>
<line x1="224.3" y1="510.6" x2="224.3" y2="513.8" stroke="#1e1e1e" stroke-width="1.1"/>
<line x1="236" y1="510.6" x2="236" y2="513.8" stroke="#1e1e1e" stroke-width="1.1"/>
<line x1="247.6" y1="510.6" x2="247.6" y2="513.8" stroke="#1e1e1e" stroke-width="1.1"/>
<line x1="259.3" y1="510.6" x2="259.3" y2="513.8" stroke="#1e1e1e" stroke-width="1.1"/>
<line x1="280.6" y1="510.6" x2="308.6" y2="510.6" stroke="#1e1e1e" stroke-width="1.3"/>
<line x1="280.6" y1="508.9" x2="280.6" y2="512.3" stroke="#1e1e1e" stroke-width="1.1"/>
<line x1="308.6" y1="508.9" x2="308.6" y2="512.3" stroke="#1e1e1e" stroke-width="1.1"/>
<line x1="294.4" y1="510.6" x2="294.4" y2="513.8" stroke="#1e1e1e" stroke-width="1.1"/>
<line x1="314.7" y1="510.6" x2="336.2" y2="510.6" stroke="#1e1e1e" stroke-width="1.3"/>
<line x1="314.7" y1="508.9" x2="314.7" y2="512.3" stroke="#1e1e1e" stroke-width="1.1"/>
<line x1="333.3" y1="510.6" x2="333.3" y2="513.8" stroke="#1e1e1e" stroke-width="1.1"/>
<text x="224.3" y="524" font-size="8.2" text-anchor="middle" font-weight="normal" stroke="#1a1a1a" stroke-width="0.18" textLength="4.8" lengthAdjust="spacingAndGlyphs">0</text>
<text x="236" y="524" font-size="8.2" text-anchor="middle" font-weight="normal" stroke="#1a1a1a" stroke-width="0.18" textLength="4.8" lengthAdjust="spacingAndGlyphs">2</text>
<text x="247.6" y="524" font-size="8.2" text-anchor="middle" font-weight="normal" stroke="#1a1a1a" stroke-width="0.18" textLength="4.8" lengthAdjust="spacingAndGlyphs">4</text>
<text x="259.3" y="524" font-size="8.2" text-anchor="middle" font-weight="normal" stroke="#1a1a1a" stroke-width="0.18" textLength="4.8" lengthAdjust="spacingAndGlyphs">6</text>
<text x="271" y="524" font-size="8.2" text-anchor="middle" font-weight="normal" stroke="#1a1a1a" stroke-width="0.18" textLength="4.8" lengthAdjust="spacingAndGlyphs">8</text>
<text x="281" y="524" font-size="8.2" text-anchor="middle" font-weight="normal" stroke="#1a1a1a" stroke-width="0.18" textLength="9.3" lengthAdjust="spacingAndGlyphs">24</text>
<text x="294.4" y="524" font-size="8.2" text-anchor="middle" font-weight="normal" stroke="#1a1a1a" stroke-width="0.18" textLength="9.3" lengthAdjust="spacingAndGlyphs">48</text>
<text x="308.3" y="524" font-size="8.2" text-anchor="middle" font-weight="normal" stroke="#1a1a1a" stroke-width="0.18" textLength="9.3" lengthAdjust="spacingAndGlyphs">72</text>
<text x="333.3" y="524" font-size="8.2" text-anchor="middle" font-weight="normal" stroke="#1a1a1a" stroke-width="0.18" textLength="13.8" lengthAdjust="spacingAndGlyphs">168</text>
<text x="280.9" y="538" font-size="10" text-anchor="middle" font-weight="normal" stroke="#1a1a1a" stroke-width="0.45" textLength="30.8" lengthAdjust="spacingAndGlyphs">Time (hrs)</text>
<text transform="translate(193.7,473.5) rotate(-90)" x="0" y="0" stroke="#1a1a1a" stroke-width="0.5" font-size="10" text-anchor="middle" textLength="37.4" lengthAdjust="spacingAndGlyphs">TAT (ng/mL)</text>
<line x1="236" y1="497.3" x2="236" y2="505.1" stroke="#3c3c3c" stroke-width="1.25"/>
<line x1="234.2" y1="497.3" x2="237.8" y2="497.3" stroke="#3c3c3c" stroke-width="1.1"/>
<line x1="234.2" y1="505.1" x2="237.8" y2="505.1" stroke="#3c3c3c" stroke-width="1.1"/>
<line x1="247.6" y1="498.5" x2="247.6" y2="504" stroke="#3c3c3c" stroke-width="1.25"/>
<line x1="245.8" y1="498.5" x2="249.4" y2="498.5" stroke="#3c3c3c" stroke-width="1.1"/>
<line x1="245.8" y1="504" x2="249.4" y2="504" stroke="#3c3c3c" stroke-width="1.1"/>
<line x1="259.3" y1="497.5" x2="259.3" y2="504" stroke="#3c3c3c" stroke-width="1.25"/>
<line x1="257.5" y1="497.5" x2="261.1" y2="497.5" stroke="#3c3c3c" stroke-width="1.1"/>
<line x1="257.5" y1="504" x2="261.1" y2="504" stroke="#3c3c3c" stroke-width="1.1"/>
<polyline points="224.3,510.3 236,501.3 247.6,501.3 259.3,500.7 271,503.8 280.6,510.9 294.4,510.9 308.3,510.9 333.3,510.9" fill="none" stroke="#2a4f8f" stroke-width="1.35" stroke-linejoin="round"/>
<circle cx="224.3" cy="510.3" r="1.45" fill="#fff" stroke="#2a4f8f" stroke-width="1"/>
<circle cx="236" cy="501.3" r="1.45" fill="#fff" stroke="#2a4f8f" stroke-width="1"/>
<circle cx="247.6" cy="501.3" r="1.45" fill="#fff" stroke="#2a4f8f" stroke-width="1"/>
<circle cx="259.3" cy="500.7" r="1.45" fill="#fff" stroke="#2a4f8f" stroke-width="1"/>
<rect x="269.5" y="502.3" width="3" height="3" fill="#fff" stroke="#2a4f8f" stroke-width="1"/>
<circle cx="280.6" cy="510.9" r="1.45" fill="#fff" stroke="#2a4f8f" stroke-width="1"/>
<circle cx="294.4" cy="510.9" r="1.45" fill="#fff" stroke="#2a4f8f" stroke-width="1"/>
<circle cx="308.3" cy="510.9" r="1.45" fill="#fff" stroke="#2a4f8f" stroke-width="1"/>
<circle cx="333.3" cy="510.9" r="1.45" fill="#fff" stroke="#2a4f8f" stroke-width="1"/>
<line x1="236" y1="456.4" x2="236" y2="465.4" stroke="#3c3c3c" stroke-width="1.25"/>
<line x1="234.2" y1="456.4" x2="237.8" y2="456.4" stroke="#3c3c3c" stroke-width="1.1"/>
<line x1="234.2" y1="465.4" x2="237.8" y2="465.4" stroke="#3c3c3c" stroke-width="1.1"/>
<line x1="247.6" y1="448.3" x2="247.6" y2="454" stroke="#3c3c3c" stroke-width="1.25"/>
<line x1="245.8" y1="448.3" x2="249.4" y2="448.3" stroke="#3c3c3c" stroke-width="1.1"/>
<line x1="245.8" y1="454" x2="249.4" y2="454" stroke="#3c3c3c" stroke-width="1.1"/>
<line x1="259.3" y1="453" x2="259.3" y2="458.3" stroke="#3c3c3c" stroke-width="1.25"/>
<line x1="257.5" y1="453" x2="261.1" y2="453" stroke="#3c3c3c" stroke-width="1.1"/>
<line x1="257.5" y1="458.3" x2="261.1" y2="458.3" stroke="#3c3c3c" stroke-width="1.1"/>
<line x1="271" y1="450" x2="271" y2="458.1" stroke="#3c3c3c" stroke-width="1.25"/>
<line x1="269.2" y1="450" x2="272.8" y2="450" stroke="#3c3c3c" stroke-width="1.1"/>
<line x1="269.2" y1="458.1" x2="272.8" y2="458.1" stroke="#3c3c3c" stroke-width="1.1"/>
<line x1="280.6" y1="457.1" x2="280.6" y2="481" stroke="#3c3c3c" stroke-width="1.25"/>
<line x1="278.8" y1="457.1" x2="282.4" y2="457.1" stroke="#3c3c3c" stroke-width="1.1"/>
<line x1="278.8" y1="481" x2="282.4" y2="481" stroke="#3c3c3c" stroke-width="1.1"/>
<polyline points="224.3,510.3 236,460.7 247.6,451.3 259.3,455.7 271,454.1 280.6,468.7" fill="none" stroke="#b5082f" stroke-width="1.35" stroke-linejoin="round"/>
<circle cx="224.3" cy="510.3" r="2.0" fill="#b5082f"/>
<circle cx="236" cy="460.7" r="2.0" fill="#b5082f"/>
<circle cx="247.6" cy="451.3" r="2.0" fill="#b5082f"/>
<circle cx="259.3" cy="455.7" r="2.0" fill="#b5082f"/>
<circle cx="271" cy="454.1" r="2.0" fill="#b5082f"/>
<circle cx="280.6" cy="468.7" r="2.0" fill="#b5082f"/>
<rect x="232.55" y="493.05" width="1.5" height="1.5" fill="#111"/>
<rect x="235.45" y="493.05" width="1.5" height="1.5" fill="#111"/>
<rect x="238.35" y="493.05" width="1.5" height="1.5" fill="#111"/>
<rect x="244.05" y="494.45" width="1.5" height="1.5" fill="#111"/>
<rect x="246.95" y="494.45" width="1.5" height="1.5" fill="#111"/>
<rect x="249.85" y="494.45" width="1.5" height="1.5" fill="#111"/>
<rect x="255.85" y="491.35" width="1.5" height="1.5" fill="#111"/>
<rect x="258.75" y="491.35" width="1.5" height="1.5" fill="#111"/>
<rect x="261.65" y="491.35" width="1.5" height="1.5" fill="#111"/>
<rect x="267.35" y="496.95" width="1.5" height="1.5" fill="#111"/>
<rect x="270.25" y="496.95" width="1.5" height="1.5" fill="#111"/>
<rect x="273.15" y="496.95" width="1.5" height="1.5" fill="#111"/>
<rect x="277.15" y="504.65" width="1.5" height="1.5" fill="#111"/>
<rect x="280.05" y="504.65" width="1.5" height="1.5" fill="#111"/>
<rect x="282.95" y="504.65" width="1.5" height="1.5" fill="#111"/>
<text x="354.7" y="428.2" font-size="12" text-anchor="start" font-weight="bold" stroke="#1a1a1a" stroke-width="0.28">L</text>
<line x1="397" y1="436.1" x2="397" y2="510.6" stroke="#1e1e1e" stroke-width="1.3"/>
<line x1="394.3" y1="438.7" x2="397" y2="438.7" stroke="#1e1e1e" stroke-width="1.1"/>
<text x="391.1" y="441.6" font-size="8.2" text-anchor="end" font-weight="normal" stroke="#1a1a1a" stroke-width="0.18" textLength="13.8" lengthAdjust="spacingAndGlyphs">150</text>
<line x1="394.3" y1="462.4" x2="397" y2="462.4" stroke="#1e1e1e" stroke-width="1.1"/>
<text x="391.1" y="465.3" font-size="8.2" text-anchor="end" font-weight="normal" stroke="#1a1a1a" stroke-width="0.18" textLength="13.8" lengthAdjust="spacingAndGlyphs">100</text>
<line x1="394.3" y1="486.5" x2="397" y2="486.5" stroke="#1e1e1e" stroke-width="1.1"/>
<text x="391.1" y="489.4" font-size="8.2" text-anchor="end" font-weight="normal" stroke="#1a1a1a" stroke-width="0.18" textLength="9.3" lengthAdjust="spacingAndGlyphs">50</text>
<line x1="394.3" y1="510.6" x2="397" y2="510.6" stroke="#1e1e1e" stroke-width="1.1"/>
<text x="391.1" y="513.5" font-size="8.2" text-anchor="end" font-weight="normal" stroke="#1a1a1a" stroke-width="0.18" textLength="4.8" lengthAdjust="spacingAndGlyphs">0</text>
<line x1="395.8" y1="510.6" x2="444.7" y2="510.6" stroke="#1e1e1e" stroke-width="1.3"/>
<line x1="444.7" y1="508.9" x2="444.7" y2="512.3" stroke="#1e1e1e" stroke-width="1.1"/>
<line x1="397" y1="510.6" x2="397" y2="513.8" stroke="#1e1e1e" stroke-width="1.1"/>
<line x1="408.9" y1="510.6" x2="408.9" y2="513.8" stroke="#1e1e1e" stroke-width="1.1"/>
<line x1="421.2" y1="510.6" x2="421.2" y2="513.8" stroke="#1e1e1e" stroke-width="1.1"/>
<line x1="433" y1="510.6" x2="433" y2="513.8" stroke="#1e1e1e" stroke-width="1.1"/>
<line x1="451.4" y1="510.6" x2="480.5" y2="510.6" stroke="#1e1e1e" stroke-width="1.3"/>
<line x1="451.4" y1="508.9" x2="451.4" y2="512.3" stroke="#1e1e1e" stroke-width="1.1"/>
<line x1="480.5" y1="508.9" x2="480.5" y2="512.3" stroke="#1e1e1e" stroke-width="1.1"/>
<line x1="465.6" y1="510.6" x2="465.6" y2="513.8" stroke="#1e1e1e" stroke-width="1.1"/>
<line x1="486.6" y1="510.6" x2="508.3" y2="510.6" stroke="#1e1e1e" stroke-width="1.3"/>
<line x1="486.6" y1="508.9" x2="486.6" y2="512.3" stroke="#1e1e1e" stroke-width="1.1"/>
<line x1="505.4" y1="510.6" x2="505.4" y2="513.8" stroke="#1e1e1e" stroke-width="1.1"/>
<text x="397" y="524" font-size="8.2" text-anchor="middle" font-weight="normal" stroke="#1a1a1a" stroke-width="0.18" textLength="4.8" lengthAdjust="spacingAndGlyphs">0</text>
<text x="408.9" y="524" font-size="8.2" text-anchor="middle" font-weight="normal" stroke="#1a1a1a" stroke-width="0.18" textLength="4.8" lengthAdjust="spacingAndGlyphs">2</text>
<text x="421.2" y="524" font-size="8.2" text-anchor="middle" font-weight="normal" stroke="#1a1a1a" stroke-width="0.18" textLength="4.8" lengthAdjust="spacingAndGlyphs">4</text>
<text x="433" y="524" font-size="8.2" text-anchor="middle" font-weight="normal" stroke="#1a1a1a" stroke-width="0.18" textLength="4.8" lengthAdjust="spacingAndGlyphs">6</text>
<text x="444" y="524" font-size="8.2" text-anchor="middle" font-weight="normal" stroke="#1a1a1a" stroke-width="0.18" textLength="4.8" lengthAdjust="spacingAndGlyphs">8</text>
<text x="452.6" y="524" font-size="8.2" text-anchor="middle" font-weight="normal" stroke="#1a1a1a" stroke-width="0.18" textLength="9.3" lengthAdjust="spacingAndGlyphs">24</text>
<text x="465.6" y="524" font-size="8.2" text-anchor="middle" font-weight="normal" stroke="#1a1a1a" stroke-width="0.18" textLength="9.3" lengthAdjust="spacingAndGlyphs">48</text>
<text x="480.2" y="524" font-size="8.2" text-anchor="middle" font-weight="normal" stroke="#1a1a1a" stroke-width="0.18" textLength="9.3" lengthAdjust="spacingAndGlyphs">72</text>
<text x="505.4" y="524" font-size="8.2" text-anchor="middle" font-weight="normal" stroke="#1a1a1a" stroke-width="0.18" textLength="13.8" lengthAdjust="spacingAndGlyphs">168</text>
<text x="453.6" y="538" font-size="10" text-anchor="middle" font-weight="normal" stroke="#1a1a1a" stroke-width="0.45" textLength="30.8" lengthAdjust="spacingAndGlyphs">Time (hrs)</text>
<text transform="translate(371.5,472) rotate(-90)" x="0" y="0" stroke="#1a1a1a" stroke-width="0.5" font-size="10" text-anchor="middle" textLength="69" lengthAdjust="spacingAndGlyphs">TF mRNA (fold over T0)</text>
<line x1="408.9" y1="495.5" x2="408.9" y2="505.9" stroke="#3c3c3c" stroke-width="1.25"/>
<line x1="407.1" y1="495.5" x2="410.7" y2="495.5" stroke="#3c3c3c" stroke-width="1.1"/>
<line x1="407.1" y1="505.9" x2="410.7" y2="505.9" stroke="#3c3c3c" stroke-width="1.1"/>
<polyline points="397,509.9 408.9,501.1 421.2,507.1 444.7,509.8" fill="none" stroke="#2a4f8f" stroke-width="1.35" stroke-linejoin="round"/>
<circle cx="397" cy="509.9" r="1.45" fill="#fff" stroke="#2a4f8f" stroke-width="1"/>
<circle cx="408.9" cy="501.1" r="1.45" fill="#fff" stroke="#2a4f8f" stroke-width="1"/>
<circle cx="421.2" cy="507.1" r="1.45" fill="#fff" stroke="#2a4f8f" stroke-width="1"/>
<circle cx="444.7" cy="509.8" r="1.45" fill="#fff" stroke="#2a4f8f" stroke-width="1"/>
<polyline points="451.4,510.7 465.6,510.7 480.2,510.7 505.4,510.7" fill="none" stroke="#2a4f8f" stroke-width="1.35" stroke-linejoin="round"/>
<circle cx="451.4" cy="510.7" r="1.45" fill="#fff" stroke="#2a4f8f" stroke-width="1"/>
<circle cx="465.6" cy="510.7" r="1.45" fill="#fff" stroke="#2a4f8f" stroke-width="1"/>
<circle cx="480.2" cy="510.7" r="1.45" fill="#fff" stroke="#2a4f8f" stroke-width="1"/>
<circle cx="505.4" cy="510.7" r="1.45" fill="#fff" stroke="#2a4f8f" stroke-width="1"/>
<line x1="408.9" y1="451.7" x2="408.9" y2="505.9" stroke="#3c3c3c" stroke-width="1.25"/>
<line x1="407.1" y1="451.7" x2="410.7" y2="451.7" stroke="#3c3c3c" stroke-width="1.1"/>
<line x1="407.1" y1="505.9" x2="410.7" y2="505.9" stroke="#3c3c3c" stroke-width="1.1"/>
<line x1="421.2" y1="491.4" x2="421.2" y2="506.5" stroke="#3c3c3c" stroke-width="1.25"/>
<line x1="419.4" y1="491.4" x2="423" y2="491.4" stroke="#3c3c3c" stroke-width="1.1"/>
<line x1="419.4" y1="506.5" x2="423" y2="506.5" stroke="#3c3c3c" stroke-width="1.1"/>
<polyline points="397,509.9 408.9,473.9 421.2,498.1 444.7,509.8" fill="none" stroke="#b5082f" stroke-width="1.35" stroke-linejoin="round"/>
<circle cx="397" cy="509.9" r="2.0" fill="#b5082f"/>
<circle cx="408.9" cy="473.9" r="2.0" fill="#b5082f"/>
<circle cx="421.2" cy="498.1" r="2.0" fill="#b5082f"/>
<circle cx="444.7" cy="509.8" r="2.0" fill="#b5082f"/>
<circle cx="451.4" cy="510.6" r="2.0" fill="#b5082f"/>
<rect x="406.9" y="446.65" width="1.5" height="1.5" fill="#111"/>
<rect x="409.8" y="446.65" width="1.5" height="1.5" fill="#111"/>
<line x1="277.7" y1="23.5" x2="287.6" y2="23.5" stroke="#b5082f" stroke-width="1.3"/>
<circle cx="282.6" cy="23.5" r="2.0" fill="#b5082f"/>
<line x1="277.7" y1="34.2" x2="287.6" y2="34.2" stroke="#2a4f8f" stroke-width="1.3"/>
<circle cx="282.6" cy="34.2" r="1.45" fill="#fff" stroke="#2a4f8f" stroke-width="1"/>
<text x="290.9" y="26.3" font-size="8.2" text-anchor="start" font-weight="normal" stroke="#1a1a1a" stroke-width="0.28">LDSA</text>
<text x="290.9" y="37" font-size="8.2" text-anchor="start" font-weight="normal" stroke="#1a1a1a" stroke-width="0.28" textLength="46.3" lengthAdjust="spacingAndGlyphs">LDSA + 3G3</text>
</svg>
</body></html>
